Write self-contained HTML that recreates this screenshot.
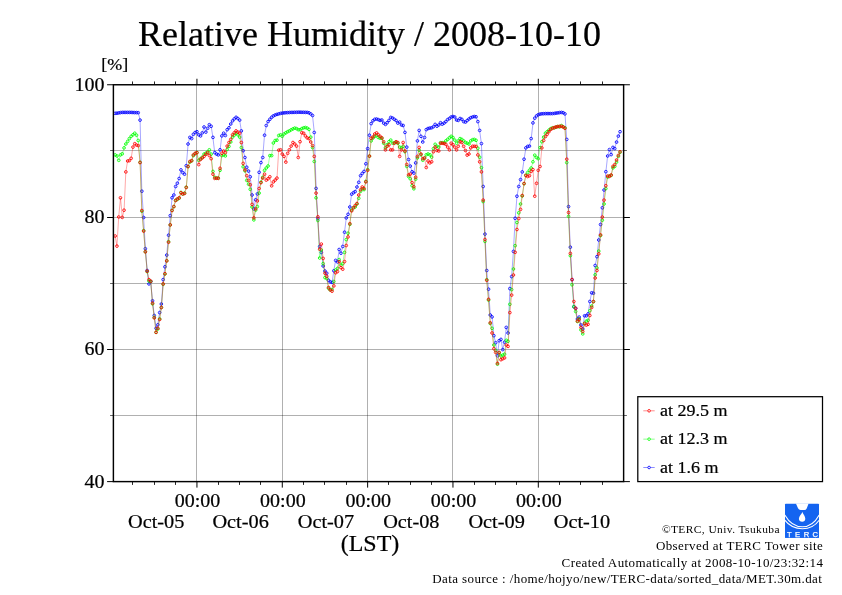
<!DOCTYPE html>
<html lang="en"><head><meta charset="utf-8"><title>Relative Humidity / 2008-10-10</title>
<style>html,body{margin:0;padding:0;background:#fff}body{width:842px;height:595px;overflow:hidden}svg{display:block;will-change:transform}text{font-family:"Liberation Serif","Times New Roman",Times,serif;fill:#000;stroke:#000;stroke-width:.22px}text.ft{stroke:none}text.lg{font-family:"Liberation Sans",Arial,sans-serif;fill:#fff;stroke:#fff;stroke-width:.25px}</style></head><body>
<svg width="842" height="595" viewBox="0 0 842 595">
<rect width="842" height="595" fill="#fff"/>
<path d="M196.5 84.76V481.61M282.5 84.76V481.61M367.5 84.76V481.61M452.5 84.76V481.61M538.5 84.76V481.61" fill="none" stroke="#000" stroke-opacity="0.31" stroke-width="1"/>
<path d="M113.39 150.5H623.62M113.39 217.5H623.62M113.39 283.5H623.62M113.39 349.5H623.62M113.39 415.5H623.62" fill="none" stroke="#000" stroke-opacity="0.31" stroke-width="1"/>
<clipPath id="c"><rect x="113.39" y="84.76" width="510.23" height="396.85"/></clipPath>
<g clip-path="url(#c)" fill="none" stroke="#0000ff">
<polyline points="115.2,113.3 116.9,113.2 118.7,112.9 120.5,112.6 122.3,112.4 124.1,112.4 125.8,112.4 127.6,112.4 129.4,112.4 131.2,112.4 132.9,112.5 134.7,112.6 136.5,112.6 138.3,112.7 140.1,120.1 141.8,191.2 143.6,217.5 145.4,248.7 147.2,270.5 148.9,283.9 150.7,281.5 152.5,300.8 154.3,315.5 156.1,328.3 157.8,324.8 159.6,312.6 161.4,304.0 163.2,279.6 164.9,266.8 166.7,255.1 168.5,235.2 170.3,215.6 172.1,197.8 173.8,195.0 175.6,186.5 177.4,183.2 179.2,178.5 180.9,169.9 182.7,172.6 184.5,174.2 186.3,165.7 188.1,144.0 189.8,137.4 191.6,138.6 193.4,134.3 195.2,132.5 196.9,131.7 198.7,134.8 200.5,135.9 202.3,132.9 204.1,127.0 205.8,132.1 207.6,128.3 209.4,124.7 211.2,126.3 212.9,137.4 214.7,152.6 216.5,154.1 218.3,154.9 220.1,149.8 221.8,135.9 223.6,133.2 225.4,135.5 227.2,129.7 228.9,127.8 230.7,124.0 232.5,120.9 234.3,118.9 236.1,117.3 237.8,118.5 239.6,120.1 241.4,130.9 243.2,150.7 245.0,157.5 246.7,167.2 248.5,171.1 250.3,176.8 252.1,195.0 253.8,208.9 255.6,199.8 257.4,193.9 259.2,172.3 261.0,162.6 262.7,157.5 264.5,135.2 266.3,125.5 268.1,121.6 269.8,119.3 271.6,117.3 273.4,115.9 275.2,115.0 277.0,114.4 278.7,113.9 280.5,113.4 282.3,113.1 284.1,112.9 285.8,112.7 287.6,112.6 289.4,112.5 291.2,112.4 293.0,112.4 294.7,112.3 296.5,112.3 298.3,112.2 300.1,112.2 301.8,112.3 303.6,112.3 305.4,112.4 307.2,112.4 309.0,112.8 310.7,113.9 312.5,115.5 314.3,132.5 316.1,188.4 317.8,218.6 319.6,246.5 321.4,252.4 323.2,266.0 325.0,271.0 326.7,273.2 328.5,280.3 330.3,281.9 332.1,282.4 333.8,270.8 335.6,260.4 337.4,262.0 339.2,249.5 341.0,253.2 342.7,246.5 344.5,232.2 346.3,217.9 348.1,214.3 349.8,207.0 351.6,194.2 353.4,192.7 355.2,191.6 357.0,187.0 358.7,182.3 360.5,175.7 362.3,173.4 364.1,171.4 365.8,163.8 367.6,148.6 369.4,135.2 371.2,123.6 373.0,120.8 374.7,119.3 376.5,119.0 378.3,119.6 380.1,120.4 381.8,120.0 383.6,123.1 385.4,124.4 387.2,122.7 389.0,120.4 390.7,117.4 392.5,118.0 394.3,119.3 396.1,120.5 397.8,123.1 399.6,122.1 401.4,125.0 403.2,125.5 405.0,132.4 406.7,147.1 408.5,159.5 410.3,166.1 412.1,171.8 413.8,173.1 415.6,162.9 417.4,140.9 419.2,130.4 421.0,136.3 422.7,142.0 424.5,137.5 426.3,129.6 428.1,128.5 429.8,128.1 431.6,127.8 433.4,126.7 435.2,124.4 437.0,126.2 438.7,125.0 440.5,122.7 442.3,124.2 444.1,123.1 445.9,121.6 447.6,119.6 449.4,118.5 451.2,117.0 453.0,116.5 454.7,117.0 456.5,120.0 458.3,120.4 460.1,118.5 461.9,119.3 463.6,121.6 465.4,122.1 467.2,120.5 469.0,119.0 470.7,117.7 472.5,117.0 474.3,116.5 476.1,116.8 477.9,121.6 479.6,130.4 481.4,143.6 483.2,186.5 485.0,234.1 486.7,270.5 488.5,289.2 490.3,315.0 492.1,316.9 493.9,335.7 495.6,342.7 497.4,355.7 499.2,340.7 501.0,339.4 502.7,349.6 504.5,342.2 506.3,327.4 508.1,333.0 509.9,288.6 511.6,276.6 513.4,251.4 515.2,218.3 517.0,196.2 518.7,186.5 520.5,179.6 522.3,171.9 524.1,159.2 525.9,147.9 527.6,146.4 529.4,146.1 531.2,138.6 533.0,122.9 534.7,118.2 536.5,115.9 538.3,114.7 540.1,114.1 541.9,113.8 543.6,113.7 545.4,113.6 547.2,113.6 549.0,113.6 550.7,113.6 552.5,113.6 554.3,113.4 556.1,113.1 557.9,112.9 559.6,112.6 561.4,112.4 563.2,112.7 565.0,113.9 566.7,139.4 568.5,206.6 570.3,247.2 572.1,279.6 573.9,306.7 575.6,308.3 577.4,319.0 579.2,317.1 581.0,325.0 582.7,329.0 584.5,315.8 586.3,315.8 588.1,313.9 589.9,301.5 591.6,292.8 593.4,293.2 595.2,265.5 597.0,256.7 598.7,240.0 600.5,224.5 602.3,207.8 604.1,190.0 605.9,171.7 607.6,156.0 609.4,149.6 611.2,154.6 613.0,147.4 614.7,148.6 616.5,142.1 618.3,136.1 620.1,131.7" stroke-width="0.35"/>
<path d="M113.8 113.3a1.35 1.35 0 1 0 2.7 0a1.35 1.35 0 1 0 -2.7 0M115.6 113.2a1.35 1.35 0 1 0 2.7 0a1.35 1.35 0 1 0 -2.7 0M117.4 112.9a1.35 1.35 0 1 0 2.7 0a1.35 1.35 0 1 0 -2.7 0M119.1 112.6a1.35 1.35 0 1 0 2.7 0a1.35 1.35 0 1 0 -2.7 0M120.9 112.4a1.35 1.35 0 1 0 2.7 0a1.35 1.35 0 1 0 -2.7 0M122.7 112.4a1.35 1.35 0 1 0 2.7 0a1.35 1.35 0 1 0 -2.7 0M124.5 112.4a1.35 1.35 0 1 0 2.7 0a1.35 1.35 0 1 0 -2.7 0M126.3 112.4a1.35 1.35 0 1 0 2.7 0a1.35 1.35 0 1 0 -2.7 0M128.0 112.4a1.35 1.35 0 1 0 2.7 0a1.35 1.35 0 1 0 -2.7 0M129.8 112.4a1.35 1.35 0 1 0 2.7 0a1.35 1.35 0 1 0 -2.7 0M131.6 112.5a1.35 1.35 0 1 0 2.7 0a1.35 1.35 0 1 0 -2.7 0M133.4 112.6a1.35 1.35 0 1 0 2.7 0a1.35 1.35 0 1 0 -2.7 0M135.2 112.6a1.35 1.35 0 1 0 2.7 0a1.35 1.35 0 1 0 -2.7 0M136.9 112.7a1.35 1.35 0 1 0 2.7 0a1.35 1.35 0 1 0 -2.7 0M138.7 120.1a1.35 1.35 0 1 0 2.7 0a1.35 1.35 0 1 0 -2.7 0M140.5 191.2a1.35 1.35 0 1 0 2.7 0a1.35 1.35 0 1 0 -2.7 0M142.3 217.5a1.35 1.35 0 1 0 2.7 0a1.35 1.35 0 1 0 -2.7 0M144.0 248.7a1.35 1.35 0 1 0 2.7 0a1.35 1.35 0 1 0 -2.7 0M145.8 270.5a1.35 1.35 0 1 0 2.7 0a1.35 1.35 0 1 0 -2.7 0M147.6 283.9a1.35 1.35 0 1 0 2.7 0a1.35 1.35 0 1 0 -2.7 0M149.4 281.5a1.35 1.35 0 1 0 2.7 0a1.35 1.35 0 1 0 -2.7 0M151.2 300.8a1.35 1.35 0 1 0 2.7 0a1.35 1.35 0 1 0 -2.7 0M152.9 315.5a1.35 1.35 0 1 0 2.7 0a1.35 1.35 0 1 0 -2.7 0M154.7 328.3a1.35 1.35 0 1 0 2.7 0a1.35 1.35 0 1 0 -2.7 0M156.5 324.8a1.35 1.35 0 1 0 2.7 0a1.35 1.35 0 1 0 -2.7 0M158.3 312.6a1.35 1.35 0 1 0 2.7 0a1.35 1.35 0 1 0 -2.7 0M160.0 304.0a1.35 1.35 0 1 0 2.7 0a1.35 1.35 0 1 0 -2.7 0M161.8 279.6a1.35 1.35 0 1 0 2.7 0a1.35 1.35 0 1 0 -2.7 0M163.6 266.8a1.35 1.35 0 1 0 2.7 0a1.35 1.35 0 1 0 -2.7 0M165.4 255.1a1.35 1.35 0 1 0 2.7 0a1.35 1.35 0 1 0 -2.7 0M167.2 235.2a1.35 1.35 0 1 0 2.7 0a1.35 1.35 0 1 0 -2.7 0M168.9 215.6a1.35 1.35 0 1 0 2.7 0a1.35 1.35 0 1 0 -2.7 0M170.7 197.8a1.35 1.35 0 1 0 2.7 0a1.35 1.35 0 1 0 -2.7 0M172.5 195.0a1.35 1.35 0 1 0 2.7 0a1.35 1.35 0 1 0 -2.7 0M174.3 186.5a1.35 1.35 0 1 0 2.7 0a1.35 1.35 0 1 0 -2.7 0M176.0 183.2a1.35 1.35 0 1 0 2.7 0a1.35 1.35 0 1 0 -2.7 0M177.8 178.5a1.35 1.35 0 1 0 2.7 0a1.35 1.35 0 1 0 -2.7 0M179.6 169.9a1.35 1.35 0 1 0 2.7 0a1.35 1.35 0 1 0 -2.7 0M181.4 172.6a1.35 1.35 0 1 0 2.7 0a1.35 1.35 0 1 0 -2.7 0M183.2 174.2a1.35 1.35 0 1 0 2.7 0a1.35 1.35 0 1 0 -2.7 0M184.9 165.7a1.35 1.35 0 1 0 2.7 0a1.35 1.35 0 1 0 -2.7 0M186.7 144.0a1.35 1.35 0 1 0 2.7 0a1.35 1.35 0 1 0 -2.7 0M188.5 137.4a1.35 1.35 0 1 0 2.7 0a1.35 1.35 0 1 0 -2.7 0M190.3 138.6a1.35 1.35 0 1 0 2.7 0a1.35 1.35 0 1 0 -2.7 0M192.0 134.3a1.35 1.35 0 1 0 2.7 0a1.35 1.35 0 1 0 -2.7 0M193.8 132.5a1.35 1.35 0 1 0 2.7 0a1.35 1.35 0 1 0 -2.7 0M195.6 131.7a1.35 1.35 0 1 0 2.7 0a1.35 1.35 0 1 0 -2.7 0M197.4 134.8a1.35 1.35 0 1 0 2.7 0a1.35 1.35 0 1 0 -2.7 0M199.2 135.9a1.35 1.35 0 1 0 2.7 0a1.35 1.35 0 1 0 -2.7 0M200.9 132.9a1.35 1.35 0 1 0 2.7 0a1.35 1.35 0 1 0 -2.7 0M202.7 127.0a1.35 1.35 0 1 0 2.7 0a1.35 1.35 0 1 0 -2.7 0M204.5 132.1a1.35 1.35 0 1 0 2.7 0a1.35 1.35 0 1 0 -2.7 0M206.3 128.3a1.35 1.35 0 1 0 2.7 0a1.35 1.35 0 1 0 -2.7 0M208.0 124.7a1.35 1.35 0 1 0 2.7 0a1.35 1.35 0 1 0 -2.7 0M209.8 126.3a1.35 1.35 0 1 0 2.7 0a1.35 1.35 0 1 0 -2.7 0M211.6 137.4a1.35 1.35 0 1 0 2.7 0a1.35 1.35 0 1 0 -2.7 0M213.4 152.6a1.35 1.35 0 1 0 2.7 0a1.35 1.35 0 1 0 -2.7 0M215.2 154.1a1.35 1.35 0 1 0 2.7 0a1.35 1.35 0 1 0 -2.7 0M216.9 154.9a1.35 1.35 0 1 0 2.7 0a1.35 1.35 0 1 0 -2.7 0M218.7 149.8a1.35 1.35 0 1 0 2.7 0a1.35 1.35 0 1 0 -2.7 0M220.5 135.9a1.35 1.35 0 1 0 2.7 0a1.35 1.35 0 1 0 -2.7 0M222.3 133.2a1.35 1.35 0 1 0 2.7 0a1.35 1.35 0 1 0 -2.7 0M224.0 135.5a1.35 1.35 0 1 0 2.7 0a1.35 1.35 0 1 0 -2.7 0M225.8 129.7a1.35 1.35 0 1 0 2.7 0a1.35 1.35 0 1 0 -2.7 0M227.6 127.8a1.35 1.35 0 1 0 2.7 0a1.35 1.35 0 1 0 -2.7 0M229.4 124.0a1.35 1.35 0 1 0 2.7 0a1.35 1.35 0 1 0 -2.7 0M231.2 120.9a1.35 1.35 0 1 0 2.7 0a1.35 1.35 0 1 0 -2.7 0M232.9 118.9a1.35 1.35 0 1 0 2.7 0a1.35 1.35 0 1 0 -2.7 0M234.7 117.3a1.35 1.35 0 1 0 2.7 0a1.35 1.35 0 1 0 -2.7 0M236.5 118.5a1.35 1.35 0 1 0 2.7 0a1.35 1.35 0 1 0 -2.7 0M238.3 120.1a1.35 1.35 0 1 0 2.7 0a1.35 1.35 0 1 0 -2.7 0M240.0 130.9a1.35 1.35 0 1 0 2.7 0a1.35 1.35 0 1 0 -2.7 0M241.8 150.7a1.35 1.35 0 1 0 2.7 0a1.35 1.35 0 1 0 -2.7 0M243.6 157.5a1.35 1.35 0 1 0 2.7 0a1.35 1.35 0 1 0 -2.7 0M245.4 167.2a1.35 1.35 0 1 0 2.7 0a1.35 1.35 0 1 0 -2.7 0M247.2 171.1a1.35 1.35 0 1 0 2.7 0a1.35 1.35 0 1 0 -2.7 0M248.9 176.8a1.35 1.35 0 1 0 2.7 0a1.35 1.35 0 1 0 -2.7 0M250.7 195.0a1.35 1.35 0 1 0 2.7 0a1.35 1.35 0 1 0 -2.7 0M252.5 208.9a1.35 1.35 0 1 0 2.7 0a1.35 1.35 0 1 0 -2.7 0M254.3 199.8a1.35 1.35 0 1 0 2.7 0a1.35 1.35 0 1 0 -2.7 0M256.0 193.9a1.35 1.35 0 1 0 2.7 0a1.35 1.35 0 1 0 -2.7 0M257.8 172.3a1.35 1.35 0 1 0 2.7 0a1.35 1.35 0 1 0 -2.7 0M259.6 162.6a1.35 1.35 0 1 0 2.7 0a1.35 1.35 0 1 0 -2.7 0M261.4 157.5a1.35 1.35 0 1 0 2.7 0a1.35 1.35 0 1 0 -2.7 0M263.2 135.2a1.35 1.35 0 1 0 2.7 0a1.35 1.35 0 1 0 -2.7 0M264.9 125.5a1.35 1.35 0 1 0 2.7 0a1.35 1.35 0 1 0 -2.7 0M266.7 121.6a1.35 1.35 0 1 0 2.7 0a1.35 1.35 0 1 0 -2.7 0M268.5 119.3a1.35 1.35 0 1 0 2.7 0a1.35 1.35 0 1 0 -2.7 0M270.3 117.3a1.35 1.35 0 1 0 2.7 0a1.35 1.35 0 1 0 -2.7 0M272.0 115.9a1.35 1.35 0 1 0 2.7 0a1.35 1.35 0 1 0 -2.7 0M273.8 115.0a1.35 1.35 0 1 0 2.7 0a1.35 1.35 0 1 0 -2.7 0M275.6 114.4a1.35 1.35 0 1 0 2.7 0a1.35 1.35 0 1 0 -2.7 0M277.4 113.9a1.35 1.35 0 1 0 2.7 0a1.35 1.35 0 1 0 -2.7 0M279.2 113.4a1.35 1.35 0 1 0 2.7 0a1.35 1.35 0 1 0 -2.7 0M280.9 113.1a1.35 1.35 0 1 0 2.7 0a1.35 1.35 0 1 0 -2.7 0M282.7 112.9a1.35 1.35 0 1 0 2.7 0a1.35 1.35 0 1 0 -2.7 0M284.5 112.7a1.35 1.35 0 1 0 2.7 0a1.35 1.35 0 1 0 -2.7 0M286.3 112.6a1.35 1.35 0 1 0 2.7 0a1.35 1.35 0 1 0 -2.7 0M288.0 112.5a1.35 1.35 0 1 0 2.7 0a1.35 1.35 0 1 0 -2.7 0M289.8 112.4a1.35 1.35 0 1 0 2.7 0a1.35 1.35 0 1 0 -2.7 0M291.6 112.4a1.35 1.35 0 1 0 2.7 0a1.35 1.35 0 1 0 -2.7 0M293.4 112.3a1.35 1.35 0 1 0 2.7 0a1.35 1.35 0 1 0 -2.7 0M295.2 112.3a1.35 1.35 0 1 0 2.7 0a1.35 1.35 0 1 0 -2.7 0M296.9 112.2a1.35 1.35 0 1 0 2.7 0a1.35 1.35 0 1 0 -2.7 0M298.7 112.2a1.35 1.35 0 1 0 2.7 0a1.35 1.35 0 1 0 -2.7 0M300.5 112.3a1.35 1.35 0 1 0 2.7 0a1.35 1.35 0 1 0 -2.7 0M302.3 112.3a1.35 1.35 0 1 0 2.7 0a1.35 1.35 0 1 0 -2.7 0M304.0 112.4a1.35 1.35 0 1 0 2.7 0a1.35 1.35 0 1 0 -2.7 0M305.8 112.4a1.35 1.35 0 1 0 2.7 0a1.35 1.35 0 1 0 -2.7 0M307.6 112.8a1.35 1.35 0 1 0 2.7 0a1.35 1.35 0 1 0 -2.7 0M309.4 113.9a1.35 1.35 0 1 0 2.7 0a1.35 1.35 0 1 0 -2.7 0M311.2 115.5a1.35 1.35 0 1 0 2.7 0a1.35 1.35 0 1 0 -2.7 0M312.9 132.5a1.35 1.35 0 1 0 2.7 0a1.35 1.35 0 1 0 -2.7 0M314.7 188.4a1.35 1.35 0 1 0 2.7 0a1.35 1.35 0 1 0 -2.7 0M316.5 218.6a1.35 1.35 0 1 0 2.7 0a1.35 1.35 0 1 0 -2.7 0M318.3 246.5a1.35 1.35 0 1 0 2.7 0a1.35 1.35 0 1 0 -2.7 0M320.0 252.4a1.35 1.35 0 1 0 2.7 0a1.35 1.35 0 1 0 -2.7 0M321.8 266.0a1.35 1.35 0 1 0 2.7 0a1.35 1.35 0 1 0 -2.7 0M323.6 271.0a1.35 1.35 0 1 0 2.7 0a1.35 1.35 0 1 0 -2.7 0M325.4 273.2a1.35 1.35 0 1 0 2.7 0a1.35 1.35 0 1 0 -2.7 0M327.2 280.3a1.35 1.35 0 1 0 2.7 0a1.35 1.35 0 1 0 -2.7 0M328.9 281.9a1.35 1.35 0 1 0 2.7 0a1.35 1.35 0 1 0 -2.7 0M330.7 282.4a1.35 1.35 0 1 0 2.7 0a1.35 1.35 0 1 0 -2.7 0M332.5 270.8a1.35 1.35 0 1 0 2.7 0a1.35 1.35 0 1 0 -2.7 0M334.3 260.4a1.35 1.35 0 1 0 2.7 0a1.35 1.35 0 1 0 -2.7 0M336.1 262.0a1.35 1.35 0 1 0 2.7 0a1.35 1.35 0 1 0 -2.7 0M337.8 249.5a1.35 1.35 0 1 0 2.7 0a1.35 1.35 0 1 0 -2.7 0M339.6 253.2a1.35 1.35 0 1 0 2.7 0a1.35 1.35 0 1 0 -2.7 0M341.4 246.5a1.35 1.35 0 1 0 2.7 0a1.35 1.35 0 1 0 -2.7 0M343.2 232.2a1.35 1.35 0 1 0 2.7 0a1.35 1.35 0 1 0 -2.7 0M344.9 217.9a1.35 1.35 0 1 0 2.7 0a1.35 1.35 0 1 0 -2.7 0M346.7 214.3a1.35 1.35 0 1 0 2.7 0a1.35 1.35 0 1 0 -2.7 0M348.5 207.0a1.35 1.35 0 1 0 2.7 0a1.35 1.35 0 1 0 -2.7 0M350.3 194.2a1.35 1.35 0 1 0 2.7 0a1.35 1.35 0 1 0 -2.7 0M352.1 192.7a1.35 1.35 0 1 0 2.7 0a1.35 1.35 0 1 0 -2.7 0M353.8 191.6a1.35 1.35 0 1 0 2.7 0a1.35 1.35 0 1 0 -2.7 0M355.6 187.0a1.35 1.35 0 1 0 2.7 0a1.35 1.35 0 1 0 -2.7 0M357.4 182.3a1.35 1.35 0 1 0 2.7 0a1.35 1.35 0 1 0 -2.7 0M359.2 175.7a1.35 1.35 0 1 0 2.7 0a1.35 1.35 0 1 0 -2.7 0M360.9 173.4a1.35 1.35 0 1 0 2.7 0a1.35 1.35 0 1 0 -2.7 0M362.7 171.4a1.35 1.35 0 1 0 2.7 0a1.35 1.35 0 1 0 -2.7 0M364.5 163.8a1.35 1.35 0 1 0 2.7 0a1.35 1.35 0 1 0 -2.7 0M366.3 148.6a1.35 1.35 0 1 0 2.7 0a1.35 1.35 0 1 0 -2.7 0M368.1 135.2a1.35 1.35 0 1 0 2.7 0a1.35 1.35 0 1 0 -2.7 0M369.8 123.6a1.35 1.35 0 1 0 2.7 0a1.35 1.35 0 1 0 -2.7 0M371.6 120.8a1.35 1.35 0 1 0 2.7 0a1.35 1.35 0 1 0 -2.7 0M373.4 119.3a1.35 1.35 0 1 0 2.7 0a1.35 1.35 0 1 0 -2.7 0M375.2 119.0a1.35 1.35 0 1 0 2.7 0a1.35 1.35 0 1 0 -2.7 0M376.9 119.6a1.35 1.35 0 1 0 2.7 0a1.35 1.35 0 1 0 -2.7 0M378.7 120.4a1.35 1.35 0 1 0 2.7 0a1.35 1.35 0 1 0 -2.7 0M380.5 120.0a1.35 1.35 0 1 0 2.7 0a1.35 1.35 0 1 0 -2.7 0M382.3 123.1a1.35 1.35 0 1 0 2.7 0a1.35 1.35 0 1 0 -2.7 0M384.1 124.4a1.35 1.35 0 1 0 2.7 0a1.35 1.35 0 1 0 -2.7 0M385.8 122.7a1.35 1.35 0 1 0 2.7 0a1.35 1.35 0 1 0 -2.7 0M387.6 120.4a1.35 1.35 0 1 0 2.7 0a1.35 1.35 0 1 0 -2.7 0M389.4 117.4a1.35 1.35 0 1 0 2.7 0a1.35 1.35 0 1 0 -2.7 0M391.2 118.0a1.35 1.35 0 1 0 2.7 0a1.35 1.35 0 1 0 -2.7 0M392.9 119.3a1.35 1.35 0 1 0 2.7 0a1.35 1.35 0 1 0 -2.7 0M394.7 120.5a1.35 1.35 0 1 0 2.7 0a1.35 1.35 0 1 0 -2.7 0M396.5 123.1a1.35 1.35 0 1 0 2.7 0a1.35 1.35 0 1 0 -2.7 0M398.3 122.1a1.35 1.35 0 1 0 2.7 0a1.35 1.35 0 1 0 -2.7 0M400.1 125.0a1.35 1.35 0 1 0 2.7 0a1.35 1.35 0 1 0 -2.7 0M401.8 125.5a1.35 1.35 0 1 0 2.7 0a1.35 1.35 0 1 0 -2.7 0M403.6 132.4a1.35 1.35 0 1 0 2.7 0a1.35 1.35 0 1 0 -2.7 0M405.4 147.1a1.35 1.35 0 1 0 2.7 0a1.35 1.35 0 1 0 -2.7 0M407.2 159.5a1.35 1.35 0 1 0 2.7 0a1.35 1.35 0 1 0 -2.7 0M408.9 166.1a1.35 1.35 0 1 0 2.7 0a1.35 1.35 0 1 0 -2.7 0M410.7 171.8a1.35 1.35 0 1 0 2.7 0a1.35 1.35 0 1 0 -2.7 0M412.5 173.1a1.35 1.35 0 1 0 2.7 0a1.35 1.35 0 1 0 -2.7 0M414.3 162.9a1.35 1.35 0 1 0 2.7 0a1.35 1.35 0 1 0 -2.7 0M416.1 140.9a1.35 1.35 0 1 0 2.7 0a1.35 1.35 0 1 0 -2.7 0M417.8 130.4a1.35 1.35 0 1 0 2.7 0a1.35 1.35 0 1 0 -2.7 0M419.6 136.3a1.35 1.35 0 1 0 2.7 0a1.35 1.35 0 1 0 -2.7 0M421.4 142.0a1.35 1.35 0 1 0 2.7 0a1.35 1.35 0 1 0 -2.7 0M423.2 137.5a1.35 1.35 0 1 0 2.7 0a1.35 1.35 0 1 0 -2.7 0M424.9 129.6a1.35 1.35 0 1 0 2.7 0a1.35 1.35 0 1 0 -2.7 0M426.7 128.5a1.35 1.35 0 1 0 2.7 0a1.35 1.35 0 1 0 -2.7 0M428.5 128.1a1.35 1.35 0 1 0 2.7 0a1.35 1.35 0 1 0 -2.7 0M430.3 127.8a1.35 1.35 0 1 0 2.7 0a1.35 1.35 0 1 0 -2.7 0M432.1 126.7a1.35 1.35 0 1 0 2.7 0a1.35 1.35 0 1 0 -2.7 0M433.8 124.4a1.35 1.35 0 1 0 2.7 0a1.35 1.35 0 1 0 -2.7 0M435.6 126.2a1.35 1.35 0 1 0 2.7 0a1.35 1.35 0 1 0 -2.7 0M437.4 125.0a1.35 1.35 0 1 0 2.7 0a1.35 1.35 0 1 0 -2.7 0M439.2 122.7a1.35 1.35 0 1 0 2.7 0a1.35 1.35 0 1 0 -2.7 0M440.9 124.2a1.35 1.35 0 1 0 2.7 0a1.35 1.35 0 1 0 -2.7 0M442.7 123.1a1.35 1.35 0 1 0 2.7 0a1.35 1.35 0 1 0 -2.7 0M444.5 121.6a1.35 1.35 0 1 0 2.7 0a1.35 1.35 0 1 0 -2.7 0M446.3 119.6a1.35 1.35 0 1 0 2.7 0a1.35 1.35 0 1 0 -2.7 0M448.1 118.5a1.35 1.35 0 1 0 2.7 0a1.35 1.35 0 1 0 -2.7 0M449.8 117.0a1.35 1.35 0 1 0 2.7 0a1.35 1.35 0 1 0 -2.7 0M451.6 116.5a1.35 1.35 0 1 0 2.7 0a1.35 1.35 0 1 0 -2.7 0M453.4 117.0a1.35 1.35 0 1 0 2.7 0a1.35 1.35 0 1 0 -2.7 0M455.2 120.0a1.35 1.35 0 1 0 2.7 0a1.35 1.35 0 1 0 -2.7 0M456.9 120.4a1.35 1.35 0 1 0 2.7 0a1.35 1.35 0 1 0 -2.7 0M458.7 118.5a1.35 1.35 0 1 0 2.7 0a1.35 1.35 0 1 0 -2.7 0M460.5 119.3a1.35 1.35 0 1 0 2.7 0a1.35 1.35 0 1 0 -2.7 0M462.3 121.6a1.35 1.35 0 1 0 2.7 0a1.35 1.35 0 1 0 -2.7 0M464.1 122.1a1.35 1.35 0 1 0 2.7 0a1.35 1.35 0 1 0 -2.7 0M465.8 120.5a1.35 1.35 0 1 0 2.7 0a1.35 1.35 0 1 0 -2.7 0M467.6 119.0a1.35 1.35 0 1 0 2.7 0a1.35 1.35 0 1 0 -2.7 0M469.4 117.7a1.35 1.35 0 1 0 2.7 0a1.35 1.35 0 1 0 -2.7 0M471.2 117.0a1.35 1.35 0 1 0 2.7 0a1.35 1.35 0 1 0 -2.7 0M472.9 116.5a1.35 1.35 0 1 0 2.7 0a1.35 1.35 0 1 0 -2.7 0M474.7 116.8a1.35 1.35 0 1 0 2.7 0a1.35 1.35 0 1 0 -2.7 0M476.5 121.6a1.35 1.35 0 1 0 2.7 0a1.35 1.35 0 1 0 -2.7 0M478.3 130.4a1.35 1.35 0 1 0 2.7 0a1.35 1.35 0 1 0 -2.7 0M480.1 143.6a1.35 1.35 0 1 0 2.7 0a1.35 1.35 0 1 0 -2.7 0M481.8 186.5a1.35 1.35 0 1 0 2.7 0a1.35 1.35 0 1 0 -2.7 0M483.6 234.1a1.35 1.35 0 1 0 2.7 0a1.35 1.35 0 1 0 -2.7 0M485.4 270.5a1.35 1.35 0 1 0 2.7 0a1.35 1.35 0 1 0 -2.7 0M487.2 289.2a1.35 1.35 0 1 0 2.7 0a1.35 1.35 0 1 0 -2.7 0M488.9 315.0a1.35 1.35 0 1 0 2.7 0a1.35 1.35 0 1 0 -2.7 0M490.7 316.9a1.35 1.35 0 1 0 2.7 0a1.35 1.35 0 1 0 -2.7 0M492.5 335.7a1.35 1.35 0 1 0 2.7 0a1.35 1.35 0 1 0 -2.7 0M494.3 342.7a1.35 1.35 0 1 0 2.7 0a1.35 1.35 0 1 0 -2.7 0M496.1 355.7a1.35 1.35 0 1 0 2.7 0a1.35 1.35 0 1 0 -2.7 0M497.8 340.7a1.35 1.35 0 1 0 2.7 0a1.35 1.35 0 1 0 -2.7 0M499.6 339.4a1.35 1.35 0 1 0 2.7 0a1.35 1.35 0 1 0 -2.7 0M501.4 349.6a1.35 1.35 0 1 0 2.7 0a1.35 1.35 0 1 0 -2.7 0M503.2 342.2a1.35 1.35 0 1 0 2.7 0a1.35 1.35 0 1 0 -2.7 0M504.9 327.4a1.35 1.35 0 1 0 2.7 0a1.35 1.35 0 1 0 -2.7 0M506.7 333.0a1.35 1.35 0 1 0 2.7 0a1.35 1.35 0 1 0 -2.7 0M508.5 288.6a1.35 1.35 0 1 0 2.7 0a1.35 1.35 0 1 0 -2.7 0M510.3 276.6a1.35 1.35 0 1 0 2.7 0a1.35 1.35 0 1 0 -2.7 0M512.1 251.4a1.35 1.35 0 1 0 2.7 0a1.35 1.35 0 1 0 -2.7 0M513.8 218.3a1.35 1.35 0 1 0 2.7 0a1.35 1.35 0 1 0 -2.7 0M515.6 196.2a1.35 1.35 0 1 0 2.7 0a1.35 1.35 0 1 0 -2.7 0M517.4 186.5a1.35 1.35 0 1 0 2.7 0a1.35 1.35 0 1 0 -2.7 0M519.2 179.6a1.35 1.35 0 1 0 2.7 0a1.35 1.35 0 1 0 -2.7 0M520.9 171.9a1.35 1.35 0 1 0 2.7 0a1.35 1.35 0 1 0 -2.7 0M522.7 159.2a1.35 1.35 0 1 0 2.7 0a1.35 1.35 0 1 0 -2.7 0M524.5 147.9a1.35 1.35 0 1 0 2.7 0a1.35 1.35 0 1 0 -2.7 0M526.3 146.4a1.35 1.35 0 1 0 2.7 0a1.35 1.35 0 1 0 -2.7 0M528.1 146.1a1.35 1.35 0 1 0 2.7 0a1.35 1.35 0 1 0 -2.7 0M529.8 138.6a1.35 1.35 0 1 0 2.7 0a1.35 1.35 0 1 0 -2.7 0M531.6 122.9a1.35 1.35 0 1 0 2.7 0a1.35 1.35 0 1 0 -2.7 0M533.4 118.2a1.35 1.35 0 1 0 2.7 0a1.35 1.35 0 1 0 -2.7 0M535.2 115.9a1.35 1.35 0 1 0 2.7 0a1.35 1.35 0 1 0 -2.7 0M536.9 114.7a1.35 1.35 0 1 0 2.7 0a1.35 1.35 0 1 0 -2.7 0M538.7 114.1a1.35 1.35 0 1 0 2.7 0a1.35 1.35 0 1 0 -2.7 0M540.5 113.8a1.35 1.35 0 1 0 2.7 0a1.35 1.35 0 1 0 -2.7 0M542.3 113.7a1.35 1.35 0 1 0 2.7 0a1.35 1.35 0 1 0 -2.7 0M544.1 113.6a1.35 1.35 0 1 0 2.7 0a1.35 1.35 0 1 0 -2.7 0M545.8 113.6a1.35 1.35 0 1 0 2.7 0a1.35 1.35 0 1 0 -2.7 0M547.6 113.6a1.35 1.35 0 1 0 2.7 0a1.35 1.35 0 1 0 -2.7 0M549.4 113.6a1.35 1.35 0 1 0 2.7 0a1.35 1.35 0 1 0 -2.7 0M551.2 113.6a1.35 1.35 0 1 0 2.7 0a1.35 1.35 0 1 0 -2.7 0M553.0 113.4a1.35 1.35 0 1 0 2.7 0a1.35 1.35 0 1 0 -2.7 0M554.7 113.1a1.35 1.35 0 1 0 2.7 0a1.35 1.35 0 1 0 -2.7 0M556.5 112.9a1.35 1.35 0 1 0 2.7 0a1.35 1.35 0 1 0 -2.7 0M558.3 112.6a1.35 1.35 0 1 0 2.7 0a1.35 1.35 0 1 0 -2.7 0M560.1 112.4a1.35 1.35 0 1 0 2.7 0a1.35 1.35 0 1 0 -2.7 0M561.8 112.7a1.35 1.35 0 1 0 2.7 0a1.35 1.35 0 1 0 -2.7 0M563.6 113.9a1.35 1.35 0 1 0 2.7 0a1.35 1.35 0 1 0 -2.7 0M565.4 139.4a1.35 1.35 0 1 0 2.7 0a1.35 1.35 0 1 0 -2.7 0M567.2 206.6a1.35 1.35 0 1 0 2.7 0a1.35 1.35 0 1 0 -2.7 0M569.0 247.2a1.35 1.35 0 1 0 2.7 0a1.35 1.35 0 1 0 -2.7 0M570.7 279.6a1.35 1.35 0 1 0 2.7 0a1.35 1.35 0 1 0 -2.7 0M572.5 306.7a1.35 1.35 0 1 0 2.7 0a1.35 1.35 0 1 0 -2.7 0M574.3 308.3a1.35 1.35 0 1 0 2.7 0a1.35 1.35 0 1 0 -2.7 0M576.1 319.0a1.35 1.35 0 1 0 2.7 0a1.35 1.35 0 1 0 -2.7 0M577.8 317.1a1.35 1.35 0 1 0 2.7 0a1.35 1.35 0 1 0 -2.7 0M579.6 325.0a1.35 1.35 0 1 0 2.7 0a1.35 1.35 0 1 0 -2.7 0M581.4 329.0a1.35 1.35 0 1 0 2.7 0a1.35 1.35 0 1 0 -2.7 0M583.2 315.8a1.35 1.35 0 1 0 2.7 0a1.35 1.35 0 1 0 -2.7 0M585.0 315.8a1.35 1.35 0 1 0 2.7 0a1.35 1.35 0 1 0 -2.7 0M586.7 313.9a1.35 1.35 0 1 0 2.7 0a1.35 1.35 0 1 0 -2.7 0M588.5 301.5a1.35 1.35 0 1 0 2.7 0a1.35 1.35 0 1 0 -2.7 0M590.3 292.8a1.35 1.35 0 1 0 2.7 0a1.35 1.35 0 1 0 -2.7 0M592.1 293.2a1.35 1.35 0 1 0 2.7 0a1.35 1.35 0 1 0 -2.7 0M593.8 265.5a1.35 1.35 0 1 0 2.7 0a1.35 1.35 0 1 0 -2.7 0M595.6 256.7a1.35 1.35 0 1 0 2.7 0a1.35 1.35 0 1 0 -2.7 0M597.4 240.0a1.35 1.35 0 1 0 2.7 0a1.35 1.35 0 1 0 -2.7 0M599.2 224.5a1.35 1.35 0 1 0 2.7 0a1.35 1.35 0 1 0 -2.7 0M601.0 207.8a1.35 1.35 0 1 0 2.7 0a1.35 1.35 0 1 0 -2.7 0M602.7 190.0a1.35 1.35 0 1 0 2.7 0a1.35 1.35 0 1 0 -2.7 0M604.5 171.7a1.35 1.35 0 1 0 2.7 0a1.35 1.35 0 1 0 -2.7 0M606.3 156.0a1.35 1.35 0 1 0 2.7 0a1.35 1.35 0 1 0 -2.7 0M608.1 149.6a1.35 1.35 0 1 0 2.7 0a1.35 1.35 0 1 0 -2.7 0M609.8 154.6a1.35 1.35 0 1 0 2.7 0a1.35 1.35 0 1 0 -2.7 0M611.6 147.4a1.35 1.35 0 1 0 2.7 0a1.35 1.35 0 1 0 -2.7 0M613.4 148.6a1.35 1.35 0 1 0 2.7 0a1.35 1.35 0 1 0 -2.7 0M615.2 142.1a1.35 1.35 0 1 0 2.7 0a1.35 1.35 0 1 0 -2.7 0M617.0 136.1a1.35 1.35 0 1 0 2.7 0a1.35 1.35 0 1 0 -2.7 0M618.7 131.7a1.35 1.35 0 1 0 2.7 0a1.35 1.35 0 1 0 -2.7 0" stroke-width="0.85"/>
</g>
<g clip-path="url(#c)" fill="none" stroke="#00ff00">
<polyline points="115.2,154.9 116.9,156.0 118.7,160.3 120.5,154.9 122.3,153.8 124.1,147.9 125.8,144.0 127.6,141.4 129.4,138.6 131.2,136.3 132.9,134.8 134.7,133.2 136.5,135.2 138.3,140.5 140.1,162.3 141.8,211.2 143.6,230.6 145.4,251.8 147.2,271.6 148.9,281.0 150.7,281.4 152.5,303.9 154.3,317.5 156.1,332.4 157.8,329.0 159.6,318.9 161.4,307.5 163.2,284.3 164.9,274.0 166.7,260.8 168.5,241.7 170.3,224.9 172.1,210.3 173.8,206.6 175.6,200.3 177.4,199.4 179.2,198.2 180.9,192.4 182.7,194.1 184.5,193.1 186.3,187.2 188.1,166.6 189.8,162.1 191.6,160.8 193.4,155.6 195.2,153.7 196.9,152.5 198.7,160.3 200.5,158.7 202.3,157.2 204.1,154.1 205.8,153.3 207.6,151.8 209.4,149.8 211.2,154.1 212.9,171.4 214.7,177.3 216.5,178.3 218.3,178.0 220.1,170.3 221.8,155.6 223.6,154.9 225.4,155.9 227.2,149.5 228.9,146.4 230.7,142.0 232.5,137.1 234.3,135.2 236.1,133.2 237.8,134.8 239.6,137.1 241.4,147.6 243.2,166.8 245.0,170.8 246.7,180.4 248.5,184.2 250.3,189.3 252.1,207.0 253.8,219.9 255.6,210.1 257.4,206.6 259.2,193.1 261.0,182.1 262.7,177.3 264.5,170.3 266.3,168.0 268.1,166.0 269.8,155.6 271.6,155.6 273.4,143.0 275.2,140.5 277.0,140.2 278.7,135.5 280.5,134.8 282.3,136.3 284.1,134.0 285.8,132.8 287.6,131.7 289.4,130.9 291.2,129.8 293.0,128.9 294.7,128.1 296.5,128.6 298.3,129.7 300.1,129.7 301.8,128.6 303.6,127.8 305.4,127.5 307.2,128.1 309.0,129.4 310.7,137.1 312.5,147.6 314.3,161.5 316.1,197.8 317.8,220.5 319.6,258.0 321.4,250.0 323.2,263.6 325.0,277.6 326.7,278.5 328.5,288.3 330.3,290.0 332.1,289.5 333.8,281.5 335.6,270.0 337.4,268.4 339.2,259.6 341.0,265.2 342.7,263.6 344.5,252.4 346.3,239.6 348.1,233.2 349.8,224.4 351.6,210.1 353.4,207.7 355.2,207.0 357.0,204.0 358.7,198.3 360.5,191.3 362.3,188.8 364.1,189.6 365.8,181.4 367.6,169.6 369.4,156.1 371.2,140.9 373.0,138.1 374.7,136.3 376.5,135.5 378.3,137.5 380.1,138.1 381.8,138.3 383.6,143.2 385.4,147.9 387.2,144.8 389.0,141.7 390.7,140.1 392.5,143.2 394.3,142.8 396.1,142.5 397.8,143.2 399.6,147.1 401.4,147.9 403.2,146.3 405.0,151.7 406.7,166.4 408.5,176.5 410.3,178.8 412.1,185.7 413.8,188.8 415.6,179.2 417.4,157.9 419.2,150.2 421.0,154.8 422.7,160.2 424.5,158.2 426.3,154.8 428.1,154.0 429.8,154.8 431.6,157.1 433.4,148.6 435.2,144.3 437.0,146.3 438.7,147.1 440.5,142.7 442.3,142.7 444.1,143.0 445.9,140.9 447.6,139.4 449.4,137.8 451.2,136.3 453.0,137.5 454.7,140.1 456.5,143.2 458.3,140.9 460.1,138.6 461.9,139.4 463.6,140.9 465.4,142.5 467.2,143.2 469.0,144.0 470.7,140.9 472.5,139.7 474.3,139.4 476.1,140.3 477.9,148.2 479.6,157.2 481.4,167.7 483.2,201.6 485.0,241.4 486.7,279.7 488.5,300.1 490.3,323.5 492.1,328.3 493.9,345.0 495.6,350.5 497.4,364.2 499.2,352.9 501.0,356.0 502.7,355.1 504.5,354.2 506.3,340.3 508.1,341.3 509.9,304.3 511.6,289.6 513.4,269.0 515.2,245.7 517.0,222.5 518.7,212.8 520.5,204.0 522.3,196.0 524.1,183.7 525.9,175.3 527.6,172.6 529.4,170.3 531.2,168.0 533.0,161.8 534.7,155.2 536.5,157.5 538.3,158.7 540.1,147.6 541.9,141.7 543.6,137.1 545.4,133.2 547.2,131.7 549.0,130.1 550.7,128.6 552.5,127.8 554.3,127.9 556.1,127.1 557.9,126.5 559.6,126.9 561.4,125.6 563.2,126.8 565.0,127.8 566.7,162.6 568.5,216.3 570.3,255.7 572.1,284.8 573.9,306.7 575.6,311.5 577.4,321.5 579.2,318.9 581.0,329.9 582.7,333.9 584.5,323.3 586.3,321.1 588.1,320.3 589.9,310.7 591.6,306.0 593.4,301.7 595.2,274.8 597.0,267.9 598.7,251.1 600.5,235.6 602.3,220.2 604.1,204.0 605.9,188.6 607.6,177.1 609.4,175.9 611.2,175.4 613.0,167.9 614.7,166.4 616.5,162.1 618.3,156.4 620.1,152.4" stroke-width="0.35"/>
<path d="M113.8 154.9a1.35 1.35 0 1 0 2.7 0a1.35 1.35 0 1 0 -2.7 0M115.6 156.0a1.35 1.35 0 1 0 2.7 0a1.35 1.35 0 1 0 -2.7 0M117.4 160.3a1.35 1.35 0 1 0 2.7 0a1.35 1.35 0 1 0 -2.7 0M119.1 154.9a1.35 1.35 0 1 0 2.7 0a1.35 1.35 0 1 0 -2.7 0M120.9 153.8a1.35 1.35 0 1 0 2.7 0a1.35 1.35 0 1 0 -2.7 0M122.7 147.9a1.35 1.35 0 1 0 2.7 0a1.35 1.35 0 1 0 -2.7 0M124.5 144.0a1.35 1.35 0 1 0 2.7 0a1.35 1.35 0 1 0 -2.7 0M126.3 141.4a1.35 1.35 0 1 0 2.7 0a1.35 1.35 0 1 0 -2.7 0M128.0 138.6a1.35 1.35 0 1 0 2.7 0a1.35 1.35 0 1 0 -2.7 0M129.8 136.3a1.35 1.35 0 1 0 2.7 0a1.35 1.35 0 1 0 -2.7 0M131.6 134.8a1.35 1.35 0 1 0 2.7 0a1.35 1.35 0 1 0 -2.7 0M133.4 133.2a1.35 1.35 0 1 0 2.7 0a1.35 1.35 0 1 0 -2.7 0M135.2 135.2a1.35 1.35 0 1 0 2.7 0a1.35 1.35 0 1 0 -2.7 0M136.9 140.5a1.35 1.35 0 1 0 2.7 0a1.35 1.35 0 1 0 -2.7 0M138.7 162.3a1.35 1.35 0 1 0 2.7 0a1.35 1.35 0 1 0 -2.7 0M140.5 211.2a1.35 1.35 0 1 0 2.7 0a1.35 1.35 0 1 0 -2.7 0M142.3 230.6a1.35 1.35 0 1 0 2.7 0a1.35 1.35 0 1 0 -2.7 0M144.0 251.8a1.35 1.35 0 1 0 2.7 0a1.35 1.35 0 1 0 -2.7 0M145.8 271.6a1.35 1.35 0 1 0 2.7 0a1.35 1.35 0 1 0 -2.7 0M147.6 281.0a1.35 1.35 0 1 0 2.7 0a1.35 1.35 0 1 0 -2.7 0M149.4 281.4a1.35 1.35 0 1 0 2.7 0a1.35 1.35 0 1 0 -2.7 0M151.2 303.9a1.35 1.35 0 1 0 2.7 0a1.35 1.35 0 1 0 -2.7 0M152.9 317.5a1.35 1.35 0 1 0 2.7 0a1.35 1.35 0 1 0 -2.7 0M154.7 332.4a1.35 1.35 0 1 0 2.7 0a1.35 1.35 0 1 0 -2.7 0M156.5 329.0a1.35 1.35 0 1 0 2.7 0a1.35 1.35 0 1 0 -2.7 0M158.3 318.9a1.35 1.35 0 1 0 2.7 0a1.35 1.35 0 1 0 -2.7 0M160.0 307.5a1.35 1.35 0 1 0 2.7 0a1.35 1.35 0 1 0 -2.7 0M161.8 284.3a1.35 1.35 0 1 0 2.7 0a1.35 1.35 0 1 0 -2.7 0M163.6 274.0a1.35 1.35 0 1 0 2.7 0a1.35 1.35 0 1 0 -2.7 0M165.4 260.8a1.35 1.35 0 1 0 2.7 0a1.35 1.35 0 1 0 -2.7 0M167.2 241.7a1.35 1.35 0 1 0 2.7 0a1.35 1.35 0 1 0 -2.7 0M168.9 224.9a1.35 1.35 0 1 0 2.7 0a1.35 1.35 0 1 0 -2.7 0M170.7 210.3a1.35 1.35 0 1 0 2.7 0a1.35 1.35 0 1 0 -2.7 0M172.5 206.6a1.35 1.35 0 1 0 2.7 0a1.35 1.35 0 1 0 -2.7 0M174.3 200.3a1.35 1.35 0 1 0 2.7 0a1.35 1.35 0 1 0 -2.7 0M176.0 199.4a1.35 1.35 0 1 0 2.7 0a1.35 1.35 0 1 0 -2.7 0M177.8 198.2a1.35 1.35 0 1 0 2.7 0a1.35 1.35 0 1 0 -2.7 0M179.6 192.4a1.35 1.35 0 1 0 2.7 0a1.35 1.35 0 1 0 -2.7 0M181.4 194.1a1.35 1.35 0 1 0 2.7 0a1.35 1.35 0 1 0 -2.7 0M183.2 193.1a1.35 1.35 0 1 0 2.7 0a1.35 1.35 0 1 0 -2.7 0M184.9 187.2a1.35 1.35 0 1 0 2.7 0a1.35 1.35 0 1 0 -2.7 0M186.7 166.6a1.35 1.35 0 1 0 2.7 0a1.35 1.35 0 1 0 -2.7 0M188.5 162.1a1.35 1.35 0 1 0 2.7 0a1.35 1.35 0 1 0 -2.7 0M190.3 160.8a1.35 1.35 0 1 0 2.7 0a1.35 1.35 0 1 0 -2.7 0M192.0 155.6a1.35 1.35 0 1 0 2.7 0a1.35 1.35 0 1 0 -2.7 0M193.8 153.7a1.35 1.35 0 1 0 2.7 0a1.35 1.35 0 1 0 -2.7 0M195.6 152.5a1.35 1.35 0 1 0 2.7 0a1.35 1.35 0 1 0 -2.7 0M197.4 160.3a1.35 1.35 0 1 0 2.7 0a1.35 1.35 0 1 0 -2.7 0M199.2 158.7a1.35 1.35 0 1 0 2.7 0a1.35 1.35 0 1 0 -2.7 0M200.9 157.2a1.35 1.35 0 1 0 2.7 0a1.35 1.35 0 1 0 -2.7 0M202.7 154.1a1.35 1.35 0 1 0 2.7 0a1.35 1.35 0 1 0 -2.7 0M204.5 153.3a1.35 1.35 0 1 0 2.7 0a1.35 1.35 0 1 0 -2.7 0M206.3 151.8a1.35 1.35 0 1 0 2.7 0a1.35 1.35 0 1 0 -2.7 0M208.0 149.8a1.35 1.35 0 1 0 2.7 0a1.35 1.35 0 1 0 -2.7 0M209.8 154.1a1.35 1.35 0 1 0 2.7 0a1.35 1.35 0 1 0 -2.7 0M211.6 171.4a1.35 1.35 0 1 0 2.7 0a1.35 1.35 0 1 0 -2.7 0M213.4 177.3a1.35 1.35 0 1 0 2.7 0a1.35 1.35 0 1 0 -2.7 0M215.2 178.3a1.35 1.35 0 1 0 2.7 0a1.35 1.35 0 1 0 -2.7 0M216.9 178.0a1.35 1.35 0 1 0 2.7 0a1.35 1.35 0 1 0 -2.7 0M218.7 170.3a1.35 1.35 0 1 0 2.7 0a1.35 1.35 0 1 0 -2.7 0M220.5 155.6a1.35 1.35 0 1 0 2.7 0a1.35 1.35 0 1 0 -2.7 0M222.3 154.9a1.35 1.35 0 1 0 2.7 0a1.35 1.35 0 1 0 -2.7 0M224.0 155.9a1.35 1.35 0 1 0 2.7 0a1.35 1.35 0 1 0 -2.7 0M225.8 149.5a1.35 1.35 0 1 0 2.7 0a1.35 1.35 0 1 0 -2.7 0M227.6 146.4a1.35 1.35 0 1 0 2.7 0a1.35 1.35 0 1 0 -2.7 0M229.4 142.0a1.35 1.35 0 1 0 2.7 0a1.35 1.35 0 1 0 -2.7 0M231.2 137.1a1.35 1.35 0 1 0 2.7 0a1.35 1.35 0 1 0 -2.7 0M232.9 135.2a1.35 1.35 0 1 0 2.7 0a1.35 1.35 0 1 0 -2.7 0M234.7 133.2a1.35 1.35 0 1 0 2.7 0a1.35 1.35 0 1 0 -2.7 0M236.5 134.8a1.35 1.35 0 1 0 2.7 0a1.35 1.35 0 1 0 -2.7 0M238.3 137.1a1.35 1.35 0 1 0 2.7 0a1.35 1.35 0 1 0 -2.7 0M240.0 147.6a1.35 1.35 0 1 0 2.7 0a1.35 1.35 0 1 0 -2.7 0M241.8 166.8a1.35 1.35 0 1 0 2.7 0a1.35 1.35 0 1 0 -2.7 0M243.6 170.8a1.35 1.35 0 1 0 2.7 0a1.35 1.35 0 1 0 -2.7 0M245.4 180.4a1.35 1.35 0 1 0 2.7 0a1.35 1.35 0 1 0 -2.7 0M247.2 184.2a1.35 1.35 0 1 0 2.7 0a1.35 1.35 0 1 0 -2.7 0M248.9 189.3a1.35 1.35 0 1 0 2.7 0a1.35 1.35 0 1 0 -2.7 0M250.7 207.0a1.35 1.35 0 1 0 2.7 0a1.35 1.35 0 1 0 -2.7 0M252.5 219.9a1.35 1.35 0 1 0 2.7 0a1.35 1.35 0 1 0 -2.7 0M254.3 210.1a1.35 1.35 0 1 0 2.7 0a1.35 1.35 0 1 0 -2.7 0M256.0 206.6a1.35 1.35 0 1 0 2.7 0a1.35 1.35 0 1 0 -2.7 0M257.8 193.1a1.35 1.35 0 1 0 2.7 0a1.35 1.35 0 1 0 -2.7 0M259.6 182.1a1.35 1.35 0 1 0 2.7 0a1.35 1.35 0 1 0 -2.7 0M261.4 177.3a1.35 1.35 0 1 0 2.7 0a1.35 1.35 0 1 0 -2.7 0M263.2 170.3a1.35 1.35 0 1 0 2.7 0a1.35 1.35 0 1 0 -2.7 0M264.9 168.0a1.35 1.35 0 1 0 2.7 0a1.35 1.35 0 1 0 -2.7 0M266.7 166.0a1.35 1.35 0 1 0 2.7 0a1.35 1.35 0 1 0 -2.7 0M268.5 155.6a1.35 1.35 0 1 0 2.7 0a1.35 1.35 0 1 0 -2.7 0M270.3 155.6a1.35 1.35 0 1 0 2.7 0a1.35 1.35 0 1 0 -2.7 0M272.0 143.0a1.35 1.35 0 1 0 2.7 0a1.35 1.35 0 1 0 -2.7 0M273.8 140.5a1.35 1.35 0 1 0 2.7 0a1.35 1.35 0 1 0 -2.7 0M275.6 140.2a1.35 1.35 0 1 0 2.7 0a1.35 1.35 0 1 0 -2.7 0M277.4 135.5a1.35 1.35 0 1 0 2.7 0a1.35 1.35 0 1 0 -2.7 0M279.2 134.8a1.35 1.35 0 1 0 2.7 0a1.35 1.35 0 1 0 -2.7 0M280.9 136.3a1.35 1.35 0 1 0 2.7 0a1.35 1.35 0 1 0 -2.7 0M282.7 134.0a1.35 1.35 0 1 0 2.7 0a1.35 1.35 0 1 0 -2.7 0M284.5 132.8a1.35 1.35 0 1 0 2.7 0a1.35 1.35 0 1 0 -2.7 0M286.3 131.7a1.35 1.35 0 1 0 2.7 0a1.35 1.35 0 1 0 -2.7 0M288.0 130.9a1.35 1.35 0 1 0 2.7 0a1.35 1.35 0 1 0 -2.7 0M289.8 129.8a1.35 1.35 0 1 0 2.7 0a1.35 1.35 0 1 0 -2.7 0M291.6 128.9a1.35 1.35 0 1 0 2.7 0a1.35 1.35 0 1 0 -2.7 0M293.4 128.1a1.35 1.35 0 1 0 2.7 0a1.35 1.35 0 1 0 -2.7 0M295.2 128.6a1.35 1.35 0 1 0 2.7 0a1.35 1.35 0 1 0 -2.7 0M296.9 129.7a1.35 1.35 0 1 0 2.7 0a1.35 1.35 0 1 0 -2.7 0M298.7 129.7a1.35 1.35 0 1 0 2.7 0a1.35 1.35 0 1 0 -2.7 0M300.5 128.6a1.35 1.35 0 1 0 2.7 0a1.35 1.35 0 1 0 -2.7 0M302.3 127.8a1.35 1.35 0 1 0 2.7 0a1.35 1.35 0 1 0 -2.7 0M304.0 127.5a1.35 1.35 0 1 0 2.7 0a1.35 1.35 0 1 0 -2.7 0M305.8 128.1a1.35 1.35 0 1 0 2.7 0a1.35 1.35 0 1 0 -2.7 0M307.6 129.4a1.35 1.35 0 1 0 2.7 0a1.35 1.35 0 1 0 -2.7 0M309.4 137.1a1.35 1.35 0 1 0 2.7 0a1.35 1.35 0 1 0 -2.7 0M311.2 147.6a1.35 1.35 0 1 0 2.7 0a1.35 1.35 0 1 0 -2.7 0M312.9 161.5a1.35 1.35 0 1 0 2.7 0a1.35 1.35 0 1 0 -2.7 0M314.7 197.8a1.35 1.35 0 1 0 2.7 0a1.35 1.35 0 1 0 -2.7 0M316.5 220.5a1.35 1.35 0 1 0 2.7 0a1.35 1.35 0 1 0 -2.7 0M318.3 258.0a1.35 1.35 0 1 0 2.7 0a1.35 1.35 0 1 0 -2.7 0M320.0 250.0a1.35 1.35 0 1 0 2.7 0a1.35 1.35 0 1 0 -2.7 0M321.8 263.6a1.35 1.35 0 1 0 2.7 0a1.35 1.35 0 1 0 -2.7 0M323.6 277.6a1.35 1.35 0 1 0 2.7 0a1.35 1.35 0 1 0 -2.7 0M325.4 278.5a1.35 1.35 0 1 0 2.7 0a1.35 1.35 0 1 0 -2.7 0M327.2 288.3a1.35 1.35 0 1 0 2.7 0a1.35 1.35 0 1 0 -2.7 0M328.9 290.0a1.35 1.35 0 1 0 2.7 0a1.35 1.35 0 1 0 -2.7 0M330.7 289.5a1.35 1.35 0 1 0 2.7 0a1.35 1.35 0 1 0 -2.7 0M332.5 281.5a1.35 1.35 0 1 0 2.7 0a1.35 1.35 0 1 0 -2.7 0M334.3 270.0a1.35 1.35 0 1 0 2.7 0a1.35 1.35 0 1 0 -2.7 0M336.1 268.4a1.35 1.35 0 1 0 2.7 0a1.35 1.35 0 1 0 -2.7 0M337.8 259.6a1.35 1.35 0 1 0 2.7 0a1.35 1.35 0 1 0 -2.7 0M339.6 265.2a1.35 1.35 0 1 0 2.7 0a1.35 1.35 0 1 0 -2.7 0M341.4 263.6a1.35 1.35 0 1 0 2.7 0a1.35 1.35 0 1 0 -2.7 0M343.2 252.4a1.35 1.35 0 1 0 2.7 0a1.35 1.35 0 1 0 -2.7 0M344.9 239.6a1.35 1.35 0 1 0 2.7 0a1.35 1.35 0 1 0 -2.7 0M346.7 233.2a1.35 1.35 0 1 0 2.7 0a1.35 1.35 0 1 0 -2.7 0M348.5 224.4a1.35 1.35 0 1 0 2.7 0a1.35 1.35 0 1 0 -2.7 0M350.3 210.1a1.35 1.35 0 1 0 2.7 0a1.35 1.35 0 1 0 -2.7 0M352.1 207.7a1.35 1.35 0 1 0 2.7 0a1.35 1.35 0 1 0 -2.7 0M353.8 207.0a1.35 1.35 0 1 0 2.7 0a1.35 1.35 0 1 0 -2.7 0M355.6 204.0a1.35 1.35 0 1 0 2.7 0a1.35 1.35 0 1 0 -2.7 0M357.4 198.3a1.35 1.35 0 1 0 2.7 0a1.35 1.35 0 1 0 -2.7 0M359.2 191.3a1.35 1.35 0 1 0 2.7 0a1.35 1.35 0 1 0 -2.7 0M360.9 188.8a1.35 1.35 0 1 0 2.7 0a1.35 1.35 0 1 0 -2.7 0M362.7 189.6a1.35 1.35 0 1 0 2.7 0a1.35 1.35 0 1 0 -2.7 0M364.5 181.4a1.35 1.35 0 1 0 2.7 0a1.35 1.35 0 1 0 -2.7 0M366.3 169.6a1.35 1.35 0 1 0 2.7 0a1.35 1.35 0 1 0 -2.7 0M368.1 156.1a1.35 1.35 0 1 0 2.7 0a1.35 1.35 0 1 0 -2.7 0M369.8 140.9a1.35 1.35 0 1 0 2.7 0a1.35 1.35 0 1 0 -2.7 0M371.6 138.1a1.35 1.35 0 1 0 2.7 0a1.35 1.35 0 1 0 -2.7 0M373.4 136.3a1.35 1.35 0 1 0 2.7 0a1.35 1.35 0 1 0 -2.7 0M375.2 135.5a1.35 1.35 0 1 0 2.7 0a1.35 1.35 0 1 0 -2.7 0M376.9 137.5a1.35 1.35 0 1 0 2.7 0a1.35 1.35 0 1 0 -2.7 0M378.7 138.1a1.35 1.35 0 1 0 2.7 0a1.35 1.35 0 1 0 -2.7 0M380.5 138.3a1.35 1.35 0 1 0 2.7 0a1.35 1.35 0 1 0 -2.7 0M382.3 143.2a1.35 1.35 0 1 0 2.7 0a1.35 1.35 0 1 0 -2.7 0M384.1 147.9a1.35 1.35 0 1 0 2.7 0a1.35 1.35 0 1 0 -2.7 0M385.8 144.8a1.35 1.35 0 1 0 2.7 0a1.35 1.35 0 1 0 -2.7 0M387.6 141.7a1.35 1.35 0 1 0 2.7 0a1.35 1.35 0 1 0 -2.7 0M389.4 140.1a1.35 1.35 0 1 0 2.7 0a1.35 1.35 0 1 0 -2.7 0M391.2 143.2a1.35 1.35 0 1 0 2.7 0a1.35 1.35 0 1 0 -2.7 0M392.9 142.8a1.35 1.35 0 1 0 2.7 0a1.35 1.35 0 1 0 -2.7 0M394.7 142.5a1.35 1.35 0 1 0 2.7 0a1.35 1.35 0 1 0 -2.7 0M396.5 143.2a1.35 1.35 0 1 0 2.7 0a1.35 1.35 0 1 0 -2.7 0M398.3 147.1a1.35 1.35 0 1 0 2.7 0a1.35 1.35 0 1 0 -2.7 0M400.1 147.9a1.35 1.35 0 1 0 2.7 0a1.35 1.35 0 1 0 -2.7 0M401.8 146.3a1.35 1.35 0 1 0 2.7 0a1.35 1.35 0 1 0 -2.7 0M403.6 151.7a1.35 1.35 0 1 0 2.7 0a1.35 1.35 0 1 0 -2.7 0M405.4 166.4a1.35 1.35 0 1 0 2.7 0a1.35 1.35 0 1 0 -2.7 0M407.2 176.5a1.35 1.35 0 1 0 2.7 0a1.35 1.35 0 1 0 -2.7 0M408.9 178.8a1.35 1.35 0 1 0 2.7 0a1.35 1.35 0 1 0 -2.7 0M410.7 185.7a1.35 1.35 0 1 0 2.7 0a1.35 1.35 0 1 0 -2.7 0M412.5 188.8a1.35 1.35 0 1 0 2.7 0a1.35 1.35 0 1 0 -2.7 0M414.3 179.2a1.35 1.35 0 1 0 2.7 0a1.35 1.35 0 1 0 -2.7 0M416.1 157.9a1.35 1.35 0 1 0 2.7 0a1.35 1.35 0 1 0 -2.7 0M417.8 150.2a1.35 1.35 0 1 0 2.7 0a1.35 1.35 0 1 0 -2.7 0M419.6 154.8a1.35 1.35 0 1 0 2.7 0a1.35 1.35 0 1 0 -2.7 0M421.4 160.2a1.35 1.35 0 1 0 2.7 0a1.35 1.35 0 1 0 -2.7 0M423.2 158.2a1.35 1.35 0 1 0 2.7 0a1.35 1.35 0 1 0 -2.7 0M424.9 154.8a1.35 1.35 0 1 0 2.7 0a1.35 1.35 0 1 0 -2.7 0M426.7 154.0a1.35 1.35 0 1 0 2.7 0a1.35 1.35 0 1 0 -2.7 0M428.5 154.8a1.35 1.35 0 1 0 2.7 0a1.35 1.35 0 1 0 -2.7 0M430.3 157.1a1.35 1.35 0 1 0 2.7 0a1.35 1.35 0 1 0 -2.7 0M432.1 148.6a1.35 1.35 0 1 0 2.7 0a1.35 1.35 0 1 0 -2.7 0M433.8 144.3a1.35 1.35 0 1 0 2.7 0a1.35 1.35 0 1 0 -2.7 0M435.6 146.3a1.35 1.35 0 1 0 2.7 0a1.35 1.35 0 1 0 -2.7 0M437.4 147.1a1.35 1.35 0 1 0 2.7 0a1.35 1.35 0 1 0 -2.7 0M439.2 142.7a1.35 1.35 0 1 0 2.7 0a1.35 1.35 0 1 0 -2.7 0M440.9 142.7a1.35 1.35 0 1 0 2.7 0a1.35 1.35 0 1 0 -2.7 0M442.7 143.0a1.35 1.35 0 1 0 2.7 0a1.35 1.35 0 1 0 -2.7 0M444.5 140.9a1.35 1.35 0 1 0 2.7 0a1.35 1.35 0 1 0 -2.7 0M446.3 139.4a1.35 1.35 0 1 0 2.7 0a1.35 1.35 0 1 0 -2.7 0M448.1 137.8a1.35 1.35 0 1 0 2.7 0a1.35 1.35 0 1 0 -2.7 0M449.8 136.3a1.35 1.35 0 1 0 2.7 0a1.35 1.35 0 1 0 -2.7 0M451.6 137.5a1.35 1.35 0 1 0 2.7 0a1.35 1.35 0 1 0 -2.7 0M453.4 140.1a1.35 1.35 0 1 0 2.7 0a1.35 1.35 0 1 0 -2.7 0M455.2 143.2a1.35 1.35 0 1 0 2.7 0a1.35 1.35 0 1 0 -2.7 0M456.9 140.9a1.35 1.35 0 1 0 2.7 0a1.35 1.35 0 1 0 -2.7 0M458.7 138.6a1.35 1.35 0 1 0 2.7 0a1.35 1.35 0 1 0 -2.7 0M460.5 139.4a1.35 1.35 0 1 0 2.7 0a1.35 1.35 0 1 0 -2.7 0M462.3 140.9a1.35 1.35 0 1 0 2.7 0a1.35 1.35 0 1 0 -2.7 0M464.1 142.5a1.35 1.35 0 1 0 2.7 0a1.35 1.35 0 1 0 -2.7 0M465.8 143.2a1.35 1.35 0 1 0 2.7 0a1.35 1.35 0 1 0 -2.7 0M467.6 144.0a1.35 1.35 0 1 0 2.7 0a1.35 1.35 0 1 0 -2.7 0M469.4 140.9a1.35 1.35 0 1 0 2.7 0a1.35 1.35 0 1 0 -2.7 0M471.2 139.7a1.35 1.35 0 1 0 2.7 0a1.35 1.35 0 1 0 -2.7 0M472.9 139.4a1.35 1.35 0 1 0 2.7 0a1.35 1.35 0 1 0 -2.7 0M474.7 140.3a1.35 1.35 0 1 0 2.7 0a1.35 1.35 0 1 0 -2.7 0M476.5 148.2a1.35 1.35 0 1 0 2.7 0a1.35 1.35 0 1 0 -2.7 0M478.3 157.2a1.35 1.35 0 1 0 2.7 0a1.35 1.35 0 1 0 -2.7 0M480.1 167.7a1.35 1.35 0 1 0 2.7 0a1.35 1.35 0 1 0 -2.7 0M481.8 201.6a1.35 1.35 0 1 0 2.7 0a1.35 1.35 0 1 0 -2.7 0M483.6 241.4a1.35 1.35 0 1 0 2.7 0a1.35 1.35 0 1 0 -2.7 0M485.4 279.7a1.35 1.35 0 1 0 2.7 0a1.35 1.35 0 1 0 -2.7 0M487.2 300.1a1.35 1.35 0 1 0 2.7 0a1.35 1.35 0 1 0 -2.7 0M488.9 323.5a1.35 1.35 0 1 0 2.7 0a1.35 1.35 0 1 0 -2.7 0M490.7 328.3a1.35 1.35 0 1 0 2.7 0a1.35 1.35 0 1 0 -2.7 0M492.5 345.0a1.35 1.35 0 1 0 2.7 0a1.35 1.35 0 1 0 -2.7 0M494.3 350.5a1.35 1.35 0 1 0 2.7 0a1.35 1.35 0 1 0 -2.7 0M496.1 364.2a1.35 1.35 0 1 0 2.7 0a1.35 1.35 0 1 0 -2.7 0M497.8 352.9a1.35 1.35 0 1 0 2.7 0a1.35 1.35 0 1 0 -2.7 0M499.6 356.0a1.35 1.35 0 1 0 2.7 0a1.35 1.35 0 1 0 -2.7 0M501.4 355.1a1.35 1.35 0 1 0 2.7 0a1.35 1.35 0 1 0 -2.7 0M503.2 354.2a1.35 1.35 0 1 0 2.7 0a1.35 1.35 0 1 0 -2.7 0M504.9 340.3a1.35 1.35 0 1 0 2.7 0a1.35 1.35 0 1 0 -2.7 0M506.7 341.3a1.35 1.35 0 1 0 2.7 0a1.35 1.35 0 1 0 -2.7 0M508.5 304.3a1.35 1.35 0 1 0 2.7 0a1.35 1.35 0 1 0 -2.7 0M510.3 289.6a1.35 1.35 0 1 0 2.7 0a1.35 1.35 0 1 0 -2.7 0M512.1 269.0a1.35 1.35 0 1 0 2.7 0a1.35 1.35 0 1 0 -2.7 0M513.8 245.7a1.35 1.35 0 1 0 2.7 0a1.35 1.35 0 1 0 -2.7 0M515.6 222.5a1.35 1.35 0 1 0 2.7 0a1.35 1.35 0 1 0 -2.7 0M517.4 212.8a1.35 1.35 0 1 0 2.7 0a1.35 1.35 0 1 0 -2.7 0M519.2 204.0a1.35 1.35 0 1 0 2.7 0a1.35 1.35 0 1 0 -2.7 0M520.9 196.0a1.35 1.35 0 1 0 2.7 0a1.35 1.35 0 1 0 -2.7 0M522.7 183.7a1.35 1.35 0 1 0 2.7 0a1.35 1.35 0 1 0 -2.7 0M524.5 175.3a1.35 1.35 0 1 0 2.7 0a1.35 1.35 0 1 0 -2.7 0M526.3 172.6a1.35 1.35 0 1 0 2.7 0a1.35 1.35 0 1 0 -2.7 0M528.1 170.3a1.35 1.35 0 1 0 2.7 0a1.35 1.35 0 1 0 -2.7 0M529.8 168.0a1.35 1.35 0 1 0 2.7 0a1.35 1.35 0 1 0 -2.7 0M531.6 161.8a1.35 1.35 0 1 0 2.7 0a1.35 1.35 0 1 0 -2.7 0M533.4 155.2a1.35 1.35 0 1 0 2.7 0a1.35 1.35 0 1 0 -2.7 0M535.2 157.5a1.35 1.35 0 1 0 2.7 0a1.35 1.35 0 1 0 -2.7 0M536.9 158.7a1.35 1.35 0 1 0 2.7 0a1.35 1.35 0 1 0 -2.7 0M538.7 147.6a1.35 1.35 0 1 0 2.7 0a1.35 1.35 0 1 0 -2.7 0M540.5 141.7a1.35 1.35 0 1 0 2.7 0a1.35 1.35 0 1 0 -2.7 0M542.3 137.1a1.35 1.35 0 1 0 2.7 0a1.35 1.35 0 1 0 -2.7 0M544.1 133.2a1.35 1.35 0 1 0 2.7 0a1.35 1.35 0 1 0 -2.7 0M545.8 131.7a1.35 1.35 0 1 0 2.7 0a1.35 1.35 0 1 0 -2.7 0M547.6 130.1a1.35 1.35 0 1 0 2.7 0a1.35 1.35 0 1 0 -2.7 0M549.4 128.6a1.35 1.35 0 1 0 2.7 0a1.35 1.35 0 1 0 -2.7 0M551.2 127.8a1.35 1.35 0 1 0 2.7 0a1.35 1.35 0 1 0 -2.7 0M553.0 127.9a1.35 1.35 0 1 0 2.7 0a1.35 1.35 0 1 0 -2.7 0M554.7 127.1a1.35 1.35 0 1 0 2.7 0a1.35 1.35 0 1 0 -2.7 0M556.5 126.5a1.35 1.35 0 1 0 2.7 0a1.35 1.35 0 1 0 -2.7 0M558.3 126.9a1.35 1.35 0 1 0 2.7 0a1.35 1.35 0 1 0 -2.7 0M560.1 125.6a1.35 1.35 0 1 0 2.7 0a1.35 1.35 0 1 0 -2.7 0M561.8 126.8a1.35 1.35 0 1 0 2.7 0a1.35 1.35 0 1 0 -2.7 0M563.6 127.8a1.35 1.35 0 1 0 2.7 0a1.35 1.35 0 1 0 -2.7 0M565.4 162.6a1.35 1.35 0 1 0 2.7 0a1.35 1.35 0 1 0 -2.7 0M567.2 216.3a1.35 1.35 0 1 0 2.7 0a1.35 1.35 0 1 0 -2.7 0M569.0 255.7a1.35 1.35 0 1 0 2.7 0a1.35 1.35 0 1 0 -2.7 0M570.7 284.8a1.35 1.35 0 1 0 2.7 0a1.35 1.35 0 1 0 -2.7 0M572.5 306.7a1.35 1.35 0 1 0 2.7 0a1.35 1.35 0 1 0 -2.7 0M574.3 311.5a1.35 1.35 0 1 0 2.7 0a1.35 1.35 0 1 0 -2.7 0M576.1 321.5a1.35 1.35 0 1 0 2.7 0a1.35 1.35 0 1 0 -2.7 0M577.8 318.9a1.35 1.35 0 1 0 2.7 0a1.35 1.35 0 1 0 -2.7 0M579.6 329.9a1.35 1.35 0 1 0 2.7 0a1.35 1.35 0 1 0 -2.7 0M581.4 333.9a1.35 1.35 0 1 0 2.7 0a1.35 1.35 0 1 0 -2.7 0M583.2 323.3a1.35 1.35 0 1 0 2.7 0a1.35 1.35 0 1 0 -2.7 0M585.0 321.1a1.35 1.35 0 1 0 2.7 0a1.35 1.35 0 1 0 -2.7 0M586.7 320.3a1.35 1.35 0 1 0 2.7 0a1.35 1.35 0 1 0 -2.7 0M588.5 310.7a1.35 1.35 0 1 0 2.7 0a1.35 1.35 0 1 0 -2.7 0M590.3 306.0a1.35 1.35 0 1 0 2.7 0a1.35 1.35 0 1 0 -2.7 0M592.1 301.7a1.35 1.35 0 1 0 2.7 0a1.35 1.35 0 1 0 -2.7 0M593.8 274.8a1.35 1.35 0 1 0 2.7 0a1.35 1.35 0 1 0 -2.7 0M595.6 267.9a1.35 1.35 0 1 0 2.7 0a1.35 1.35 0 1 0 -2.7 0M597.4 251.1a1.35 1.35 0 1 0 2.7 0a1.35 1.35 0 1 0 -2.7 0M599.2 235.6a1.35 1.35 0 1 0 2.7 0a1.35 1.35 0 1 0 -2.7 0M601.0 220.2a1.35 1.35 0 1 0 2.7 0a1.35 1.35 0 1 0 -2.7 0M602.7 204.0a1.35 1.35 0 1 0 2.7 0a1.35 1.35 0 1 0 -2.7 0M604.5 188.6a1.35 1.35 0 1 0 2.7 0a1.35 1.35 0 1 0 -2.7 0M606.3 177.1a1.35 1.35 0 1 0 2.7 0a1.35 1.35 0 1 0 -2.7 0M608.1 175.9a1.35 1.35 0 1 0 2.7 0a1.35 1.35 0 1 0 -2.7 0M609.8 175.4a1.35 1.35 0 1 0 2.7 0a1.35 1.35 0 1 0 -2.7 0M611.6 167.9a1.35 1.35 0 1 0 2.7 0a1.35 1.35 0 1 0 -2.7 0M613.4 166.4a1.35 1.35 0 1 0 2.7 0a1.35 1.35 0 1 0 -2.7 0M615.2 162.1a1.35 1.35 0 1 0 2.7 0a1.35 1.35 0 1 0 -2.7 0M617.0 156.4a1.35 1.35 0 1 0 2.7 0a1.35 1.35 0 1 0 -2.7 0M618.7 152.4a1.35 1.35 0 1 0 2.7 0a1.35 1.35 0 1 0 -2.7 0" stroke-width="0.85"/>
</g>
<g clip-path="url(#c)" fill="none" stroke="#ff0000">
<polyline points="115.2,236.0 116.9,246.1 118.7,217.0 120.5,197.8 122.3,217.4 124.1,210.2 125.8,171.9 127.6,161.0 129.4,160.6 131.2,158.3 132.9,147.1 134.7,143.7 136.5,145.1 138.3,145.6 140.1,162.6 141.8,210.5 143.6,231.1 145.4,251.8 147.2,271.2 148.9,279.6 150.7,281.2 152.5,303.2 154.3,317.9 156.1,332.3 157.8,328.3 159.6,319.5 161.4,307.5 163.2,283.9 164.9,273.7 166.7,260.9 168.5,242.2 170.3,224.9 172.1,210.5 173.8,206.6 175.6,200.5 177.4,198.9 179.2,197.8 180.9,192.7 182.7,194.0 184.5,193.5 186.3,187.5 188.1,166.5 189.8,161.5 191.6,160.7 193.4,154.9 195.2,153.3 196.9,152.6 198.7,164.6 200.5,159.5 202.3,158.0 204.1,156.4 205.8,154.4 207.6,152.6 209.4,155.6 211.2,158.7 212.9,174.2 214.7,178.4 216.5,178.0 218.3,178.4 220.1,168.3 221.8,153.3 223.6,151.0 225.4,152.6 227.2,146.1 228.9,142.5 230.7,139.4 232.5,134.8 234.3,132.8 236.1,130.9 237.8,132.1 239.6,133.2 241.4,142.5 243.2,163.4 245.0,169.9 246.7,175.7 248.5,180.4 250.3,184.7 252.1,204.4 253.8,217.9 255.6,208.9 257.4,200.9 259.2,188.5 261.0,182.7 262.7,178.1 264.5,174.2 266.3,180.1 268.1,178.8 269.8,176.8 271.6,185.8 273.4,181.9 275.2,180.1 277.0,178.1 278.7,150.2 280.5,149.8 282.3,154.1 284.1,156.4 285.8,162.1 287.6,153.3 289.4,149.8 291.2,146.1 293.0,142.5 294.7,144.0 296.5,146.1 298.3,157.5 300.1,141.7 301.8,132.8 303.6,133.2 305.4,135.9 307.2,137.9 309.0,138.6 310.7,142.0 312.5,145.6 314.3,156.4 316.1,193.1 317.8,216.8 319.6,249.2 321.4,244.1 323.2,258.4 325.0,273.2 326.7,276.3 328.5,287.5 330.3,289.9 332.1,291.2 333.8,285.9 335.6,272.8 337.4,271.6 339.2,261.6 341.0,267.6 342.7,269.2 344.5,261.6 346.3,245.5 348.1,236.9 349.8,223.7 351.6,210.9 353.4,207.8 355.2,205.5 357.0,203.5 358.7,195.0 360.5,189.8 362.3,187.0 364.1,188.5 365.8,181.9 367.6,170.3 369.4,156.1 371.2,138.3 373.0,137.0 374.7,134.0 376.5,132.9 378.3,134.7 380.1,136.3 381.8,137.8 383.6,141.7 385.4,149.9 387.2,146.3 389.0,144.8 390.7,149.9 392.5,149.9 394.3,143.2 396.1,141.7 397.8,142.5 399.6,156.4 401.4,149.9 403.2,142.5 405.0,151.0 406.7,164.4 408.5,174.9 410.3,174.1 412.1,182.6 413.8,186.8 415.6,177.2 417.4,156.4 419.2,147.4 421.0,154.0 422.7,158.7 424.5,157.9 426.3,167.5 428.1,161.0 429.8,162.9 431.6,161.8 433.4,151.7 435.2,147.1 437.0,150.5 438.7,151.0 440.5,143.2 442.3,143.2 444.1,143.5 445.9,144.3 447.6,147.1 449.4,149.9 451.2,143.2 453.0,144.8 454.7,147.1 456.5,149.9 458.3,146.3 460.1,141.7 461.9,142.5 463.6,146.3 465.4,150.5 467.2,155.1 469.0,154.0 470.7,147.9 472.5,146.3 474.3,146.3 476.1,146.4 477.9,154.9 479.6,161.8 481.4,171.9 483.2,200.1 485.0,239.5 486.7,280.3 488.5,299.3 490.3,322.8 492.1,333.0 493.9,348.7 495.6,352.4 497.4,363.4 499.2,352.4 501.0,359.7 502.7,358.8 504.5,357.9 506.3,345.0 508.1,346.4 509.9,312.6 511.6,295.1 513.4,275.0 515.2,252.3 517.0,229.5 518.7,218.6 520.5,209.4 522.3,195.5 524.1,183.5 525.9,175.4 527.6,176.5 529.4,175.7 531.2,171.4 533.0,169.6 534.7,196.2 536.5,183.3 538.3,170.3 540.1,166.5 541.9,147.9 543.6,140.5 545.4,136.6 547.2,134.3 549.0,131.7 550.7,129.4 552.5,128.3 554.3,127.5 556.1,127.0 557.9,126.6 559.6,126.3 561.4,126.3 563.2,127.0 565.0,128.3 566.7,159.2 568.5,212.5 570.3,253.4 572.1,279.6 573.9,301.5 575.6,308.3 577.4,321.1 579.2,319.5 581.0,327.5 582.7,331.5 584.5,323.5 586.3,325.1 588.1,324.3 589.9,315.5 591.6,307.5 593.4,301.5 595.2,278.0 597.0,270.5 598.7,253.9 600.5,234.9 602.3,217.1 604.1,200.1 605.9,185.7 607.6,176.0 609.4,176.4 611.2,175.0 613.0,166.4 614.7,164.6 616.5,160.0 618.3,155.4 620.1,151.7" stroke-width="0.35"/>
<path d="M113.8 236.0a1.35 1.35 0 1 0 2.7 0a1.35 1.35 0 1 0 -2.7 0M115.6 246.1a1.35 1.35 0 1 0 2.7 0a1.35 1.35 0 1 0 -2.7 0M117.4 217.0a1.35 1.35 0 1 0 2.7 0a1.35 1.35 0 1 0 -2.7 0M119.1 197.8a1.35 1.35 0 1 0 2.7 0a1.35 1.35 0 1 0 -2.7 0M120.9 217.4a1.35 1.35 0 1 0 2.7 0a1.35 1.35 0 1 0 -2.7 0M122.7 210.2a1.35 1.35 0 1 0 2.7 0a1.35 1.35 0 1 0 -2.7 0M124.5 171.9a1.35 1.35 0 1 0 2.7 0a1.35 1.35 0 1 0 -2.7 0M126.3 161.0a1.35 1.35 0 1 0 2.7 0a1.35 1.35 0 1 0 -2.7 0M128.0 160.6a1.35 1.35 0 1 0 2.7 0a1.35 1.35 0 1 0 -2.7 0M129.8 158.3a1.35 1.35 0 1 0 2.7 0a1.35 1.35 0 1 0 -2.7 0M131.6 147.1a1.35 1.35 0 1 0 2.7 0a1.35 1.35 0 1 0 -2.7 0M133.4 143.7a1.35 1.35 0 1 0 2.7 0a1.35 1.35 0 1 0 -2.7 0M135.2 145.1a1.35 1.35 0 1 0 2.7 0a1.35 1.35 0 1 0 -2.7 0M136.9 145.6a1.35 1.35 0 1 0 2.7 0a1.35 1.35 0 1 0 -2.7 0M138.7 162.6a1.35 1.35 0 1 0 2.7 0a1.35 1.35 0 1 0 -2.7 0M140.5 210.5a1.35 1.35 0 1 0 2.7 0a1.35 1.35 0 1 0 -2.7 0M142.3 231.1a1.35 1.35 0 1 0 2.7 0a1.35 1.35 0 1 0 -2.7 0M144.0 251.8a1.35 1.35 0 1 0 2.7 0a1.35 1.35 0 1 0 -2.7 0M145.8 271.2a1.35 1.35 0 1 0 2.7 0a1.35 1.35 0 1 0 -2.7 0M147.6 279.6a1.35 1.35 0 1 0 2.7 0a1.35 1.35 0 1 0 -2.7 0M149.4 281.2a1.35 1.35 0 1 0 2.7 0a1.35 1.35 0 1 0 -2.7 0M151.2 303.2a1.35 1.35 0 1 0 2.7 0a1.35 1.35 0 1 0 -2.7 0M152.9 317.9a1.35 1.35 0 1 0 2.7 0a1.35 1.35 0 1 0 -2.7 0M154.7 332.3a1.35 1.35 0 1 0 2.7 0a1.35 1.35 0 1 0 -2.7 0M156.5 328.3a1.35 1.35 0 1 0 2.7 0a1.35 1.35 0 1 0 -2.7 0M158.3 319.5a1.35 1.35 0 1 0 2.7 0a1.35 1.35 0 1 0 -2.7 0M160.0 307.5a1.35 1.35 0 1 0 2.7 0a1.35 1.35 0 1 0 -2.7 0M161.8 283.9a1.35 1.35 0 1 0 2.7 0a1.35 1.35 0 1 0 -2.7 0M163.6 273.7a1.35 1.35 0 1 0 2.7 0a1.35 1.35 0 1 0 -2.7 0M165.4 260.9a1.35 1.35 0 1 0 2.7 0a1.35 1.35 0 1 0 -2.7 0M167.2 242.2a1.35 1.35 0 1 0 2.7 0a1.35 1.35 0 1 0 -2.7 0M168.9 224.9a1.35 1.35 0 1 0 2.7 0a1.35 1.35 0 1 0 -2.7 0M170.7 210.5a1.35 1.35 0 1 0 2.7 0a1.35 1.35 0 1 0 -2.7 0M172.5 206.6a1.35 1.35 0 1 0 2.7 0a1.35 1.35 0 1 0 -2.7 0M174.3 200.5a1.35 1.35 0 1 0 2.7 0a1.35 1.35 0 1 0 -2.7 0M176.0 198.9a1.35 1.35 0 1 0 2.7 0a1.35 1.35 0 1 0 -2.7 0M177.8 197.8a1.35 1.35 0 1 0 2.7 0a1.35 1.35 0 1 0 -2.7 0M179.6 192.7a1.35 1.35 0 1 0 2.7 0a1.35 1.35 0 1 0 -2.7 0M181.4 194.0a1.35 1.35 0 1 0 2.7 0a1.35 1.35 0 1 0 -2.7 0M183.2 193.5a1.35 1.35 0 1 0 2.7 0a1.35 1.35 0 1 0 -2.7 0M184.9 187.5a1.35 1.35 0 1 0 2.7 0a1.35 1.35 0 1 0 -2.7 0M186.7 166.5a1.35 1.35 0 1 0 2.7 0a1.35 1.35 0 1 0 -2.7 0M188.5 161.5a1.35 1.35 0 1 0 2.7 0a1.35 1.35 0 1 0 -2.7 0M190.3 160.7a1.35 1.35 0 1 0 2.7 0a1.35 1.35 0 1 0 -2.7 0M192.0 154.9a1.35 1.35 0 1 0 2.7 0a1.35 1.35 0 1 0 -2.7 0M193.8 153.3a1.35 1.35 0 1 0 2.7 0a1.35 1.35 0 1 0 -2.7 0M195.6 152.6a1.35 1.35 0 1 0 2.7 0a1.35 1.35 0 1 0 -2.7 0M197.4 164.6a1.35 1.35 0 1 0 2.7 0a1.35 1.35 0 1 0 -2.7 0M199.2 159.5a1.35 1.35 0 1 0 2.7 0a1.35 1.35 0 1 0 -2.7 0M200.9 158.0a1.35 1.35 0 1 0 2.7 0a1.35 1.35 0 1 0 -2.7 0M202.7 156.4a1.35 1.35 0 1 0 2.7 0a1.35 1.35 0 1 0 -2.7 0M204.5 154.4a1.35 1.35 0 1 0 2.7 0a1.35 1.35 0 1 0 -2.7 0M206.3 152.6a1.35 1.35 0 1 0 2.7 0a1.35 1.35 0 1 0 -2.7 0M208.0 155.6a1.35 1.35 0 1 0 2.7 0a1.35 1.35 0 1 0 -2.7 0M209.8 158.7a1.35 1.35 0 1 0 2.7 0a1.35 1.35 0 1 0 -2.7 0M211.6 174.2a1.35 1.35 0 1 0 2.7 0a1.35 1.35 0 1 0 -2.7 0M213.4 178.4a1.35 1.35 0 1 0 2.7 0a1.35 1.35 0 1 0 -2.7 0M215.2 178.0a1.35 1.35 0 1 0 2.7 0a1.35 1.35 0 1 0 -2.7 0M216.9 178.4a1.35 1.35 0 1 0 2.7 0a1.35 1.35 0 1 0 -2.7 0M218.7 168.3a1.35 1.35 0 1 0 2.7 0a1.35 1.35 0 1 0 -2.7 0M220.5 153.3a1.35 1.35 0 1 0 2.7 0a1.35 1.35 0 1 0 -2.7 0M222.3 151.0a1.35 1.35 0 1 0 2.7 0a1.35 1.35 0 1 0 -2.7 0M224.0 152.6a1.35 1.35 0 1 0 2.7 0a1.35 1.35 0 1 0 -2.7 0M225.8 146.1a1.35 1.35 0 1 0 2.7 0a1.35 1.35 0 1 0 -2.7 0M227.6 142.5a1.35 1.35 0 1 0 2.7 0a1.35 1.35 0 1 0 -2.7 0M229.4 139.4a1.35 1.35 0 1 0 2.7 0a1.35 1.35 0 1 0 -2.7 0M231.2 134.8a1.35 1.35 0 1 0 2.7 0a1.35 1.35 0 1 0 -2.7 0M232.9 132.8a1.35 1.35 0 1 0 2.7 0a1.35 1.35 0 1 0 -2.7 0M234.7 130.9a1.35 1.35 0 1 0 2.7 0a1.35 1.35 0 1 0 -2.7 0M236.5 132.1a1.35 1.35 0 1 0 2.7 0a1.35 1.35 0 1 0 -2.7 0M238.3 133.2a1.35 1.35 0 1 0 2.7 0a1.35 1.35 0 1 0 -2.7 0M240.0 142.5a1.35 1.35 0 1 0 2.7 0a1.35 1.35 0 1 0 -2.7 0M241.8 163.4a1.35 1.35 0 1 0 2.7 0a1.35 1.35 0 1 0 -2.7 0M243.6 169.9a1.35 1.35 0 1 0 2.7 0a1.35 1.35 0 1 0 -2.7 0M245.4 175.7a1.35 1.35 0 1 0 2.7 0a1.35 1.35 0 1 0 -2.7 0M247.2 180.4a1.35 1.35 0 1 0 2.7 0a1.35 1.35 0 1 0 -2.7 0M248.9 184.7a1.35 1.35 0 1 0 2.7 0a1.35 1.35 0 1 0 -2.7 0M250.7 204.4a1.35 1.35 0 1 0 2.7 0a1.35 1.35 0 1 0 -2.7 0M252.5 217.9a1.35 1.35 0 1 0 2.7 0a1.35 1.35 0 1 0 -2.7 0M254.3 208.9a1.35 1.35 0 1 0 2.7 0a1.35 1.35 0 1 0 -2.7 0M256.0 200.9a1.35 1.35 0 1 0 2.7 0a1.35 1.35 0 1 0 -2.7 0M257.8 188.5a1.35 1.35 0 1 0 2.7 0a1.35 1.35 0 1 0 -2.7 0M259.6 182.7a1.35 1.35 0 1 0 2.7 0a1.35 1.35 0 1 0 -2.7 0M261.4 178.1a1.35 1.35 0 1 0 2.7 0a1.35 1.35 0 1 0 -2.7 0M263.2 174.2a1.35 1.35 0 1 0 2.7 0a1.35 1.35 0 1 0 -2.7 0M264.9 180.1a1.35 1.35 0 1 0 2.7 0a1.35 1.35 0 1 0 -2.7 0M266.7 178.8a1.35 1.35 0 1 0 2.7 0a1.35 1.35 0 1 0 -2.7 0M268.5 176.8a1.35 1.35 0 1 0 2.7 0a1.35 1.35 0 1 0 -2.7 0M270.3 185.8a1.35 1.35 0 1 0 2.7 0a1.35 1.35 0 1 0 -2.7 0M272.0 181.9a1.35 1.35 0 1 0 2.7 0a1.35 1.35 0 1 0 -2.7 0M273.8 180.1a1.35 1.35 0 1 0 2.7 0a1.35 1.35 0 1 0 -2.7 0M275.6 178.1a1.35 1.35 0 1 0 2.7 0a1.35 1.35 0 1 0 -2.7 0M277.4 150.2a1.35 1.35 0 1 0 2.7 0a1.35 1.35 0 1 0 -2.7 0M279.2 149.8a1.35 1.35 0 1 0 2.7 0a1.35 1.35 0 1 0 -2.7 0M280.9 154.1a1.35 1.35 0 1 0 2.7 0a1.35 1.35 0 1 0 -2.7 0M282.7 156.4a1.35 1.35 0 1 0 2.7 0a1.35 1.35 0 1 0 -2.7 0M284.5 162.1a1.35 1.35 0 1 0 2.7 0a1.35 1.35 0 1 0 -2.7 0M286.3 153.3a1.35 1.35 0 1 0 2.7 0a1.35 1.35 0 1 0 -2.7 0M288.0 149.8a1.35 1.35 0 1 0 2.7 0a1.35 1.35 0 1 0 -2.7 0M289.8 146.1a1.35 1.35 0 1 0 2.7 0a1.35 1.35 0 1 0 -2.7 0M291.6 142.5a1.35 1.35 0 1 0 2.7 0a1.35 1.35 0 1 0 -2.7 0M293.4 144.0a1.35 1.35 0 1 0 2.7 0a1.35 1.35 0 1 0 -2.7 0M295.2 146.1a1.35 1.35 0 1 0 2.7 0a1.35 1.35 0 1 0 -2.7 0M296.9 157.5a1.35 1.35 0 1 0 2.7 0a1.35 1.35 0 1 0 -2.7 0M298.7 141.7a1.35 1.35 0 1 0 2.7 0a1.35 1.35 0 1 0 -2.7 0M300.5 132.8a1.35 1.35 0 1 0 2.7 0a1.35 1.35 0 1 0 -2.7 0M302.3 133.2a1.35 1.35 0 1 0 2.7 0a1.35 1.35 0 1 0 -2.7 0M304.0 135.9a1.35 1.35 0 1 0 2.7 0a1.35 1.35 0 1 0 -2.7 0M305.8 137.9a1.35 1.35 0 1 0 2.7 0a1.35 1.35 0 1 0 -2.7 0M307.6 138.6a1.35 1.35 0 1 0 2.7 0a1.35 1.35 0 1 0 -2.7 0M309.4 142.0a1.35 1.35 0 1 0 2.7 0a1.35 1.35 0 1 0 -2.7 0M311.2 145.6a1.35 1.35 0 1 0 2.7 0a1.35 1.35 0 1 0 -2.7 0M312.9 156.4a1.35 1.35 0 1 0 2.7 0a1.35 1.35 0 1 0 -2.7 0M314.7 193.1a1.35 1.35 0 1 0 2.7 0a1.35 1.35 0 1 0 -2.7 0M316.5 216.8a1.35 1.35 0 1 0 2.7 0a1.35 1.35 0 1 0 -2.7 0M318.3 249.2a1.35 1.35 0 1 0 2.7 0a1.35 1.35 0 1 0 -2.7 0M320.0 244.1a1.35 1.35 0 1 0 2.7 0a1.35 1.35 0 1 0 -2.7 0M321.8 258.4a1.35 1.35 0 1 0 2.7 0a1.35 1.35 0 1 0 -2.7 0M323.6 273.2a1.35 1.35 0 1 0 2.7 0a1.35 1.35 0 1 0 -2.7 0M325.4 276.3a1.35 1.35 0 1 0 2.7 0a1.35 1.35 0 1 0 -2.7 0M327.2 287.5a1.35 1.35 0 1 0 2.7 0a1.35 1.35 0 1 0 -2.7 0M328.9 289.9a1.35 1.35 0 1 0 2.7 0a1.35 1.35 0 1 0 -2.7 0M330.7 291.2a1.35 1.35 0 1 0 2.7 0a1.35 1.35 0 1 0 -2.7 0M332.5 285.9a1.35 1.35 0 1 0 2.7 0a1.35 1.35 0 1 0 -2.7 0M334.3 272.8a1.35 1.35 0 1 0 2.7 0a1.35 1.35 0 1 0 -2.7 0M336.1 271.6a1.35 1.35 0 1 0 2.7 0a1.35 1.35 0 1 0 -2.7 0M337.8 261.6a1.35 1.35 0 1 0 2.7 0a1.35 1.35 0 1 0 -2.7 0M339.6 267.6a1.35 1.35 0 1 0 2.7 0a1.35 1.35 0 1 0 -2.7 0M341.4 269.2a1.35 1.35 0 1 0 2.7 0a1.35 1.35 0 1 0 -2.7 0M343.2 261.6a1.35 1.35 0 1 0 2.7 0a1.35 1.35 0 1 0 -2.7 0M344.9 245.5a1.35 1.35 0 1 0 2.7 0a1.35 1.35 0 1 0 -2.7 0M346.7 236.9a1.35 1.35 0 1 0 2.7 0a1.35 1.35 0 1 0 -2.7 0M348.5 223.7a1.35 1.35 0 1 0 2.7 0a1.35 1.35 0 1 0 -2.7 0M350.3 210.9a1.35 1.35 0 1 0 2.7 0a1.35 1.35 0 1 0 -2.7 0M352.1 207.8a1.35 1.35 0 1 0 2.7 0a1.35 1.35 0 1 0 -2.7 0M353.8 205.5a1.35 1.35 0 1 0 2.7 0a1.35 1.35 0 1 0 -2.7 0M355.6 203.5a1.35 1.35 0 1 0 2.7 0a1.35 1.35 0 1 0 -2.7 0M357.4 195.0a1.35 1.35 0 1 0 2.7 0a1.35 1.35 0 1 0 -2.7 0M359.2 189.8a1.35 1.35 0 1 0 2.7 0a1.35 1.35 0 1 0 -2.7 0M360.9 187.0a1.35 1.35 0 1 0 2.7 0a1.35 1.35 0 1 0 -2.7 0M362.7 188.5a1.35 1.35 0 1 0 2.7 0a1.35 1.35 0 1 0 -2.7 0M364.5 181.9a1.35 1.35 0 1 0 2.7 0a1.35 1.35 0 1 0 -2.7 0M366.3 170.3a1.35 1.35 0 1 0 2.7 0a1.35 1.35 0 1 0 -2.7 0M368.1 156.1a1.35 1.35 0 1 0 2.7 0a1.35 1.35 0 1 0 -2.7 0M369.8 138.3a1.35 1.35 0 1 0 2.7 0a1.35 1.35 0 1 0 -2.7 0M371.6 137.0a1.35 1.35 0 1 0 2.7 0a1.35 1.35 0 1 0 -2.7 0M373.4 134.0a1.35 1.35 0 1 0 2.7 0a1.35 1.35 0 1 0 -2.7 0M375.2 132.9a1.35 1.35 0 1 0 2.7 0a1.35 1.35 0 1 0 -2.7 0M376.9 134.7a1.35 1.35 0 1 0 2.7 0a1.35 1.35 0 1 0 -2.7 0M378.7 136.3a1.35 1.35 0 1 0 2.7 0a1.35 1.35 0 1 0 -2.7 0M380.5 137.8a1.35 1.35 0 1 0 2.7 0a1.35 1.35 0 1 0 -2.7 0M382.3 141.7a1.35 1.35 0 1 0 2.7 0a1.35 1.35 0 1 0 -2.7 0M384.1 149.9a1.35 1.35 0 1 0 2.7 0a1.35 1.35 0 1 0 -2.7 0M385.8 146.3a1.35 1.35 0 1 0 2.7 0a1.35 1.35 0 1 0 -2.7 0M387.6 144.8a1.35 1.35 0 1 0 2.7 0a1.35 1.35 0 1 0 -2.7 0M389.4 149.9a1.35 1.35 0 1 0 2.7 0a1.35 1.35 0 1 0 -2.7 0M391.2 149.9a1.35 1.35 0 1 0 2.7 0a1.35 1.35 0 1 0 -2.7 0M392.9 143.2a1.35 1.35 0 1 0 2.7 0a1.35 1.35 0 1 0 -2.7 0M394.7 141.7a1.35 1.35 0 1 0 2.7 0a1.35 1.35 0 1 0 -2.7 0M396.5 142.5a1.35 1.35 0 1 0 2.7 0a1.35 1.35 0 1 0 -2.7 0M398.3 156.4a1.35 1.35 0 1 0 2.7 0a1.35 1.35 0 1 0 -2.7 0M400.1 149.9a1.35 1.35 0 1 0 2.7 0a1.35 1.35 0 1 0 -2.7 0M401.8 142.5a1.35 1.35 0 1 0 2.7 0a1.35 1.35 0 1 0 -2.7 0M403.6 151.0a1.35 1.35 0 1 0 2.7 0a1.35 1.35 0 1 0 -2.7 0M405.4 164.4a1.35 1.35 0 1 0 2.7 0a1.35 1.35 0 1 0 -2.7 0M407.2 174.9a1.35 1.35 0 1 0 2.7 0a1.35 1.35 0 1 0 -2.7 0M408.9 174.1a1.35 1.35 0 1 0 2.7 0a1.35 1.35 0 1 0 -2.7 0M410.7 182.6a1.35 1.35 0 1 0 2.7 0a1.35 1.35 0 1 0 -2.7 0M412.5 186.8a1.35 1.35 0 1 0 2.7 0a1.35 1.35 0 1 0 -2.7 0M414.3 177.2a1.35 1.35 0 1 0 2.7 0a1.35 1.35 0 1 0 -2.7 0M416.1 156.4a1.35 1.35 0 1 0 2.7 0a1.35 1.35 0 1 0 -2.7 0M417.8 147.4a1.35 1.35 0 1 0 2.7 0a1.35 1.35 0 1 0 -2.7 0M419.6 154.0a1.35 1.35 0 1 0 2.7 0a1.35 1.35 0 1 0 -2.7 0M421.4 158.7a1.35 1.35 0 1 0 2.7 0a1.35 1.35 0 1 0 -2.7 0M423.2 157.9a1.35 1.35 0 1 0 2.7 0a1.35 1.35 0 1 0 -2.7 0M424.9 167.5a1.35 1.35 0 1 0 2.7 0a1.35 1.35 0 1 0 -2.7 0M426.7 161.0a1.35 1.35 0 1 0 2.7 0a1.35 1.35 0 1 0 -2.7 0M428.5 162.9a1.35 1.35 0 1 0 2.7 0a1.35 1.35 0 1 0 -2.7 0M430.3 161.8a1.35 1.35 0 1 0 2.7 0a1.35 1.35 0 1 0 -2.7 0M432.1 151.7a1.35 1.35 0 1 0 2.7 0a1.35 1.35 0 1 0 -2.7 0M433.8 147.1a1.35 1.35 0 1 0 2.7 0a1.35 1.35 0 1 0 -2.7 0M435.6 150.5a1.35 1.35 0 1 0 2.7 0a1.35 1.35 0 1 0 -2.7 0M437.4 151.0a1.35 1.35 0 1 0 2.7 0a1.35 1.35 0 1 0 -2.7 0M439.2 143.2a1.35 1.35 0 1 0 2.7 0a1.35 1.35 0 1 0 -2.7 0M440.9 143.2a1.35 1.35 0 1 0 2.7 0a1.35 1.35 0 1 0 -2.7 0M442.7 143.5a1.35 1.35 0 1 0 2.7 0a1.35 1.35 0 1 0 -2.7 0M444.5 144.3a1.35 1.35 0 1 0 2.7 0a1.35 1.35 0 1 0 -2.7 0M446.3 147.1a1.35 1.35 0 1 0 2.7 0a1.35 1.35 0 1 0 -2.7 0M448.1 149.9a1.35 1.35 0 1 0 2.7 0a1.35 1.35 0 1 0 -2.7 0M449.8 143.2a1.35 1.35 0 1 0 2.7 0a1.35 1.35 0 1 0 -2.7 0M451.6 144.8a1.35 1.35 0 1 0 2.7 0a1.35 1.35 0 1 0 -2.7 0M453.4 147.1a1.35 1.35 0 1 0 2.7 0a1.35 1.35 0 1 0 -2.7 0M455.2 149.9a1.35 1.35 0 1 0 2.7 0a1.35 1.35 0 1 0 -2.7 0M456.9 146.3a1.35 1.35 0 1 0 2.7 0a1.35 1.35 0 1 0 -2.7 0M458.7 141.7a1.35 1.35 0 1 0 2.7 0a1.35 1.35 0 1 0 -2.7 0M460.5 142.5a1.35 1.35 0 1 0 2.7 0a1.35 1.35 0 1 0 -2.7 0M462.3 146.3a1.35 1.35 0 1 0 2.7 0a1.35 1.35 0 1 0 -2.7 0M464.1 150.5a1.35 1.35 0 1 0 2.7 0a1.35 1.35 0 1 0 -2.7 0M465.8 155.1a1.35 1.35 0 1 0 2.7 0a1.35 1.35 0 1 0 -2.7 0M467.6 154.0a1.35 1.35 0 1 0 2.7 0a1.35 1.35 0 1 0 -2.7 0M469.4 147.9a1.35 1.35 0 1 0 2.7 0a1.35 1.35 0 1 0 -2.7 0M471.2 146.3a1.35 1.35 0 1 0 2.7 0a1.35 1.35 0 1 0 -2.7 0M472.9 146.3a1.35 1.35 0 1 0 2.7 0a1.35 1.35 0 1 0 -2.7 0M474.7 146.4a1.35 1.35 0 1 0 2.7 0a1.35 1.35 0 1 0 -2.7 0M476.5 154.9a1.35 1.35 0 1 0 2.7 0a1.35 1.35 0 1 0 -2.7 0M478.3 161.8a1.35 1.35 0 1 0 2.7 0a1.35 1.35 0 1 0 -2.7 0M480.1 171.9a1.35 1.35 0 1 0 2.7 0a1.35 1.35 0 1 0 -2.7 0M481.8 200.1a1.35 1.35 0 1 0 2.7 0a1.35 1.35 0 1 0 -2.7 0M483.6 239.5a1.35 1.35 0 1 0 2.7 0a1.35 1.35 0 1 0 -2.7 0M485.4 280.3a1.35 1.35 0 1 0 2.7 0a1.35 1.35 0 1 0 -2.7 0M487.2 299.3a1.35 1.35 0 1 0 2.7 0a1.35 1.35 0 1 0 -2.7 0M488.9 322.8a1.35 1.35 0 1 0 2.7 0a1.35 1.35 0 1 0 -2.7 0M490.7 333.0a1.35 1.35 0 1 0 2.7 0a1.35 1.35 0 1 0 -2.7 0M492.5 348.7a1.35 1.35 0 1 0 2.7 0a1.35 1.35 0 1 0 -2.7 0M494.3 352.4a1.35 1.35 0 1 0 2.7 0a1.35 1.35 0 1 0 -2.7 0M496.1 363.4a1.35 1.35 0 1 0 2.7 0a1.35 1.35 0 1 0 -2.7 0M497.8 352.4a1.35 1.35 0 1 0 2.7 0a1.35 1.35 0 1 0 -2.7 0M499.6 359.7a1.35 1.35 0 1 0 2.7 0a1.35 1.35 0 1 0 -2.7 0M501.4 358.8a1.35 1.35 0 1 0 2.7 0a1.35 1.35 0 1 0 -2.7 0M503.2 357.9a1.35 1.35 0 1 0 2.7 0a1.35 1.35 0 1 0 -2.7 0M504.9 345.0a1.35 1.35 0 1 0 2.7 0a1.35 1.35 0 1 0 -2.7 0M506.7 346.4a1.35 1.35 0 1 0 2.7 0a1.35 1.35 0 1 0 -2.7 0M508.5 312.6a1.35 1.35 0 1 0 2.7 0a1.35 1.35 0 1 0 -2.7 0M510.3 295.1a1.35 1.35 0 1 0 2.7 0a1.35 1.35 0 1 0 -2.7 0M512.1 275.0a1.35 1.35 0 1 0 2.7 0a1.35 1.35 0 1 0 -2.7 0M513.8 252.3a1.35 1.35 0 1 0 2.7 0a1.35 1.35 0 1 0 -2.7 0M515.6 229.5a1.35 1.35 0 1 0 2.7 0a1.35 1.35 0 1 0 -2.7 0M517.4 218.6a1.35 1.35 0 1 0 2.7 0a1.35 1.35 0 1 0 -2.7 0M519.2 209.4a1.35 1.35 0 1 0 2.7 0a1.35 1.35 0 1 0 -2.7 0M520.9 195.5a1.35 1.35 0 1 0 2.7 0a1.35 1.35 0 1 0 -2.7 0M522.7 183.5a1.35 1.35 0 1 0 2.7 0a1.35 1.35 0 1 0 -2.7 0M524.5 175.4a1.35 1.35 0 1 0 2.7 0a1.35 1.35 0 1 0 -2.7 0M526.3 176.5a1.35 1.35 0 1 0 2.7 0a1.35 1.35 0 1 0 -2.7 0M528.1 175.7a1.35 1.35 0 1 0 2.7 0a1.35 1.35 0 1 0 -2.7 0M529.8 171.4a1.35 1.35 0 1 0 2.7 0a1.35 1.35 0 1 0 -2.7 0M531.6 169.6a1.35 1.35 0 1 0 2.7 0a1.35 1.35 0 1 0 -2.7 0M533.4 196.2a1.35 1.35 0 1 0 2.7 0a1.35 1.35 0 1 0 -2.7 0M535.2 183.3a1.35 1.35 0 1 0 2.7 0a1.35 1.35 0 1 0 -2.7 0M536.9 170.3a1.35 1.35 0 1 0 2.7 0a1.35 1.35 0 1 0 -2.7 0M538.7 166.5a1.35 1.35 0 1 0 2.7 0a1.35 1.35 0 1 0 -2.7 0M540.5 147.9a1.35 1.35 0 1 0 2.7 0a1.35 1.35 0 1 0 -2.7 0M542.3 140.5a1.35 1.35 0 1 0 2.7 0a1.35 1.35 0 1 0 -2.7 0M544.1 136.6a1.35 1.35 0 1 0 2.7 0a1.35 1.35 0 1 0 -2.7 0M545.8 134.3a1.35 1.35 0 1 0 2.7 0a1.35 1.35 0 1 0 -2.7 0M547.6 131.7a1.35 1.35 0 1 0 2.7 0a1.35 1.35 0 1 0 -2.7 0M549.4 129.4a1.35 1.35 0 1 0 2.7 0a1.35 1.35 0 1 0 -2.7 0M551.2 128.3a1.35 1.35 0 1 0 2.7 0a1.35 1.35 0 1 0 -2.7 0M553.0 127.5a1.35 1.35 0 1 0 2.7 0a1.35 1.35 0 1 0 -2.7 0M554.7 127.0a1.35 1.35 0 1 0 2.7 0a1.35 1.35 0 1 0 -2.7 0M556.5 126.6a1.35 1.35 0 1 0 2.7 0a1.35 1.35 0 1 0 -2.7 0M558.3 126.3a1.35 1.35 0 1 0 2.7 0a1.35 1.35 0 1 0 -2.7 0M560.1 126.3a1.35 1.35 0 1 0 2.7 0a1.35 1.35 0 1 0 -2.7 0M561.8 127.0a1.35 1.35 0 1 0 2.7 0a1.35 1.35 0 1 0 -2.7 0M563.6 128.3a1.35 1.35 0 1 0 2.7 0a1.35 1.35 0 1 0 -2.7 0M565.4 159.2a1.35 1.35 0 1 0 2.7 0a1.35 1.35 0 1 0 -2.7 0M567.2 212.5a1.35 1.35 0 1 0 2.7 0a1.35 1.35 0 1 0 -2.7 0M569.0 253.4a1.35 1.35 0 1 0 2.7 0a1.35 1.35 0 1 0 -2.7 0M570.7 279.6a1.35 1.35 0 1 0 2.7 0a1.35 1.35 0 1 0 -2.7 0M572.5 301.5a1.35 1.35 0 1 0 2.7 0a1.35 1.35 0 1 0 -2.7 0M574.3 308.3a1.35 1.35 0 1 0 2.7 0a1.35 1.35 0 1 0 -2.7 0M576.1 321.1a1.35 1.35 0 1 0 2.7 0a1.35 1.35 0 1 0 -2.7 0M577.8 319.5a1.35 1.35 0 1 0 2.7 0a1.35 1.35 0 1 0 -2.7 0M579.6 327.5a1.35 1.35 0 1 0 2.7 0a1.35 1.35 0 1 0 -2.7 0M581.4 331.5a1.35 1.35 0 1 0 2.7 0a1.35 1.35 0 1 0 -2.7 0M583.2 323.5a1.35 1.35 0 1 0 2.7 0a1.35 1.35 0 1 0 -2.7 0M585.0 325.1a1.35 1.35 0 1 0 2.7 0a1.35 1.35 0 1 0 -2.7 0M586.7 324.3a1.35 1.35 0 1 0 2.7 0a1.35 1.35 0 1 0 -2.7 0M588.5 315.5a1.35 1.35 0 1 0 2.7 0a1.35 1.35 0 1 0 -2.7 0M590.3 307.5a1.35 1.35 0 1 0 2.7 0a1.35 1.35 0 1 0 -2.7 0M592.1 301.5a1.35 1.35 0 1 0 2.7 0a1.35 1.35 0 1 0 -2.7 0M593.8 278.0a1.35 1.35 0 1 0 2.7 0a1.35 1.35 0 1 0 -2.7 0M595.6 270.5a1.35 1.35 0 1 0 2.7 0a1.35 1.35 0 1 0 -2.7 0M597.4 253.9a1.35 1.35 0 1 0 2.7 0a1.35 1.35 0 1 0 -2.7 0M599.2 234.9a1.35 1.35 0 1 0 2.7 0a1.35 1.35 0 1 0 -2.7 0M601.0 217.1a1.35 1.35 0 1 0 2.7 0a1.35 1.35 0 1 0 -2.7 0M602.7 200.1a1.35 1.35 0 1 0 2.7 0a1.35 1.35 0 1 0 -2.7 0M604.5 185.7a1.35 1.35 0 1 0 2.7 0a1.35 1.35 0 1 0 -2.7 0M606.3 176.0a1.35 1.35 0 1 0 2.7 0a1.35 1.35 0 1 0 -2.7 0M608.1 176.4a1.35 1.35 0 1 0 2.7 0a1.35 1.35 0 1 0 -2.7 0M609.8 175.0a1.35 1.35 0 1 0 2.7 0a1.35 1.35 0 1 0 -2.7 0M611.6 166.4a1.35 1.35 0 1 0 2.7 0a1.35 1.35 0 1 0 -2.7 0M613.4 164.6a1.35 1.35 0 1 0 2.7 0a1.35 1.35 0 1 0 -2.7 0M615.2 160.0a1.35 1.35 0 1 0 2.7 0a1.35 1.35 0 1 0 -2.7 0M617.0 155.4a1.35 1.35 0 1 0 2.7 0a1.35 1.35 0 1 0 -2.7 0M618.7 151.7a1.35 1.35 0 1 0 2.7 0a1.35 1.35 0 1 0 -2.7 0" stroke-width="0.85"/>
</g>
<path d="M196.95 481.61v6.0M196.95 84.76v-6.0M282.29 481.61v6.0M282.29 84.76v-6.0M367.63 481.61v6.0M367.63 84.76v-6.0M452.96 481.61v6.0M452.96 84.76v-6.0M538.30 481.61v6.0M538.30 84.76v-6.0M113.39 481.61h-6.3M623.62 481.61h6.3M113.39 349.50h-6.3M623.62 349.50h6.3M113.39 217.50h-6.3M623.62 217.50h6.3M113.39 84.76h-6.3M623.62 84.76h6.3" fill="none" stroke="#000" stroke-width="1.0"/>
<path d="M113.39 415.50h-3.3M623.62 415.50h3.3M113.39 283.50h-3.3M623.62 283.50h3.3M113.39 150.50h-3.3M623.62 150.50h3.3" fill="none" stroke="#000" stroke-width="0.6"/>
<path d="M132.5 481.61v3.3M132.5 84.76v-3.3M154.5 481.61v3.3M154.5 84.76v-3.3M175.5 481.61v3.3M175.5 84.76v-3.3M218.5 481.61v3.3M218.5 84.76v-3.3M239.5 481.61v3.3M239.5 84.76v-3.3M260.5 481.61v3.3M260.5 84.76v-3.3M303.5 481.61v3.3M303.5 84.76v-3.3M324.5 481.61v3.3M324.5 84.76v-3.3M346.5 481.61v3.3M346.5 84.76v-3.3M388.5 481.61v3.3M388.5 84.76v-3.3M410.5 481.61v3.3M410.5 84.76v-3.3M431.5 481.61v3.3M431.5 84.76v-3.3M474.5 481.61v3.3M474.5 84.76v-3.3M495.5 481.61v3.3M495.5 84.76v-3.3M516.5 481.61v3.3M516.5 84.76v-3.3M559.5 481.61v3.3M559.5 84.76v-3.3M580.5 481.61v3.3M580.5 84.76v-3.3M602.5 481.61v3.3M602.5 84.76v-3.3" fill="none" stroke="#000" stroke-width="0.85"/>
<rect x="113.39" y="84.76" width="510.23" height="396.85" fill="none" stroke="#000" stroke-width="1.45"/>
<text x="369.5" y="46.2" font-size="36" text-anchor="middle">Relative Humidity / 2008-10-10</text>
<text transform="translate(101.30 69.70) scale(1.06 1)" font-size="17" text-anchor="start">[%]</text>
<text transform="translate(104.60 90.86) scale(1.07 1)" font-size="18.7" text-anchor="end">100</text>
<text transform="translate(104.60 223.14) scale(1.07 1)" font-size="18.7" text-anchor="end">80</text>
<text transform="translate(104.60 355.43) scale(1.07 1)" font-size="18.7" text-anchor="end">60</text>
<text transform="translate(104.60 487.71) scale(1.07 1)" font-size="18.7" text-anchor="end">40</text>
<text transform="translate(197.55 507.20) scale(1.07 1)" font-size="18.7" text-anchor="middle">00:00</text>
<text transform="translate(282.89 507.20) scale(1.07 1)" font-size="18.7" text-anchor="middle">00:00</text>
<text transform="translate(368.22 507.20) scale(1.07 1)" font-size="18.7" text-anchor="middle">00:00</text>
<text transform="translate(453.56 507.20) scale(1.07 1)" font-size="18.7" text-anchor="middle">00:00</text>
<text transform="translate(538.90 507.20) scale(1.07 1)" font-size="18.7" text-anchor="middle">00:00</text>
<text transform="translate(156.17 527.50) scale(1.085 1)" font-size="18.7" text-anchor="middle">Oct-05</text>
<text transform="translate(240.62 527.50) scale(1.085 1)" font-size="18.7" text-anchor="middle">Oct-06</text>
<text transform="translate(325.96 527.50) scale(1.085 1)" font-size="18.7" text-anchor="middle">Oct-07</text>
<text transform="translate(411.29 527.50) scale(1.085 1)" font-size="18.7" text-anchor="middle">Oct-08</text>
<text transform="translate(496.63 527.50) scale(1.085 1)" font-size="18.7" text-anchor="middle">Oct-09</text>
<text transform="translate(581.96 527.50) scale(1.085 1)" font-size="18.7" text-anchor="middle">Oct-10</text>
<text transform="translate(370.00 550.60) scale(1.0 1)" font-size="24" text-anchor="middle">(LST)</text>
<rect x="637.8" y="396.7" width="184.7" height="84.9" fill="#fff" stroke="#000" stroke-width="1.25"/>
<g fill="none" stroke="#ff0000"><path d="M643.3 410.80h11.4" stroke-width="0.45"/><circle cx="649.1" cy="410.80" r="1.3" stroke-width="0.85" fill="#fff"/></g>
<text transform="translate(660.00 416.10) scale(1.06 1)" font-size="17" text-anchor="start">at 29.5 m</text>
<g fill="none" stroke="#00ff00"><path d="M643.3 439.15h11.4" stroke-width="0.45"/><circle cx="649.1" cy="439.15" r="1.3" stroke-width="0.85" fill="#fff"/></g>
<text transform="translate(660.00 444.45) scale(1.06 1)" font-size="17" text-anchor="start">at 12.3 m</text>
<g fill="none" stroke="#0000ff"><path d="M643.3 467.50h11.4" stroke-width="0.45"/><circle cx="649.1" cy="467.50" r="1.3" stroke-width="0.85" fill="#fff"/></g>
<text transform="translate(660.00 472.80) scale(1.06 1)" font-size="17" text-anchor="start">at 1.6 m</text>
<g transform="translate(785 503.8)">
<rect width="34" height="34" rx="0.8" fill="#1464f0"/>
<rect y="30" width="34" height="4" fill="#1464f0"/>
<path d="M10.9 -0.2 L12.9 4.2 Q13.8 6.3 15.6 6.3 L19.4 6.3 Q21 6.3 21.8 4.4 L23.6 -0.2 Z" fill="#fff"/>
<path d="M17.4 8.3 C18.2 10.6 20.3 12.6 20.3 14.9 C20.3 16.8 19 17.9 17.2 17.9 C15.3 17.9 13.9 16.8 13.9 14.9 C13.9 12.6 16.4 10.6 17.4 8.3 Z" fill="#fff"/>
<path d="M-0.2 11.2 C4 18.5 10 23 17.4 23 C24.8 23 30.2 18.5 34.2 11.2" fill="none" stroke="#fff" stroke-width="1.1"/>
<path d="M-0.2 16.4 C4 22 10 24.9 17.4 24.9 C24.8 24.9 30.2 22 34.2 16.4" fill="none" stroke="#fff" stroke-width="1.1"/>
<text class="lg" font-size="7.6" text-anchor="middle" x="4.4 12.6 21.5 30.3" y="33.1">TERC</text>
</g>
<text class="ft" x="779.5" y="533.1" font-size="11.4" text-anchor="end" textLength="117.6" lengthAdjust="spacing">©TERC, Univ. Tsukuba</text>
<text class="ft" x="822.9" y="550.1" font-size="13" text-anchor="end" textLength="167" lengthAdjust="spacing">Observed at TERC Tower site</text>
<text class="ft" x="822.9" y="566.9" font-size="13" text-anchor="end" textLength="261.3" lengthAdjust="spacing">Created Automatically at 2008-10-10/23:32:14</text>
<text class="ft" x="821.9" y="583.2" font-size="13" text-anchor="end" textLength="389.6" lengthAdjust="spacing">Data source : /home/hojyo/new/TERC-data/sorted_data/MET.30m.dat</text>
</svg></body></html>
